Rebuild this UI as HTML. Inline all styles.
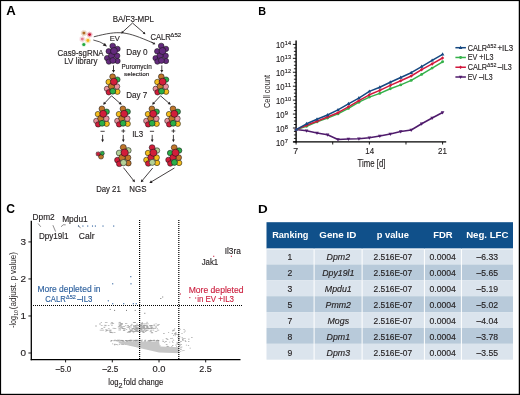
<!DOCTYPE html>
<html><head><meta charset="utf-8"><style>
html,body{margin:0;padding:0;background:#fff;}
body{width:520px;height:395px;position:relative;overflow:hidden;font-family:"Liberation Sans", sans-serif;}
.frame{position:absolute;left:0;top:0;width:520px;height:395px;box-sizing:border-box;border-top:1.2px solid #000;border-left:1.2px solid #000;border-right:1.3px solid #000;border-bottom:1.3px solid #000;}
</style></head><body>
<svg width="520" height="395" viewBox="0 0 520 395" style="position:absolute;left:0;top:0;will-change:transform" font-family='"Liberation Sans", sans-serif' fill="#231f20">
<text x="6.38" y="15.00" font-size="11.92" fill="#000" font-weight="bold" textLength="9.53" lengthAdjust="spacingAndGlyphs">A</text>
<text x="258.29" y="14.90" font-size="11.77" fill="#000" font-weight="bold" textLength="7.81" lengthAdjust="spacingAndGlyphs">B</text>
<text x="6.37" y="213.00" font-size="12.21" fill="#000" font-weight="bold" textLength="8.77" lengthAdjust="spacingAndGlyphs">C</text>
<text x="258.09" y="212.70" font-size="11.77" fill="#000" font-weight="bold" textLength="9.71" lengthAdjust="spacingAndGlyphs">D</text>
<text x="112.65" y="21.70" font-size="9.23" textLength="41.41" lengthAdjust="spacingAndGlyphs" stroke="#231f20" stroke-width="0.15">BA/F3-MPL</text>
<line x1="132.5" y1="23.0" x2="122.38" y2="32.31" stroke="#231f20" stroke-width="0.85"/>
<polygon points="121.20,33.40 123.83,32.86 121.96,30.83" fill="#231f20"/>
<line x1="132.5" y1="23.0" x2="144.18" y2="33.14" stroke="#231f20" stroke-width="0.85"/>
<polygon points="145.40,34.20 144.57,31.65 142.76,33.73" fill="#231f20"/>
<path d="M93.8,36.8 C120,30.1 125.8,31.2 153.0,42.9" fill="none" stroke="#231f20" stroke-width="0.8"/>
<line x1="151.5" y1="42.2" x2="153.92" y2="43.50" stroke="#231f20" stroke-width="0.85"/>
<polygon points="155.40,44.30 153.97,41.89 152.60,44.43" fill="#231f20"/>
<path d="M93.3,40.0 Q100.5,41.5 104.8,44.6" fill="none" stroke="#231f20" stroke-width="0.75"/>
<polygon points="107.0,46.6 102.7,45.6 104.9,42.9" fill="#231f20"/>
<polygon points="87.20,33.10 86.31,33.75 86.76,34.75 85.67,34.87 85.55,35.96 84.55,35.51 83.90,36.40 83.25,35.51 82.25,35.96 82.13,34.87 81.04,34.75 81.49,33.75 80.60,33.10 81.49,32.45 81.04,31.45 82.13,31.33 82.25,30.24 83.25,30.69 83.90,29.80 84.55,30.69 85.55,30.24 85.67,31.33 86.76,31.45 86.31,32.45" fill="#b06a25" opacity="0.3"/>
<circle cx="83.9" cy="33.1" r="1.45" fill="#b06a25"/>
<polygon points="92.90,34.60 92.01,35.25 92.46,36.25 91.37,36.37 91.25,37.46 90.25,37.01 89.60,37.90 88.95,37.01 87.95,37.46 87.83,36.37 86.74,36.25 87.19,35.25 86.30,34.60 87.19,33.95 86.74,32.95 87.83,32.83 87.95,31.74 88.95,32.19 89.60,31.30 90.25,32.19 91.25,31.74 91.37,32.83 92.46,32.95 92.01,33.95" fill="#c8102e" opacity="0.3"/>
<circle cx="89.6" cy="34.6" r="1.45" fill="#c8102e"/>
<polygon points="85.60,39.10 84.71,39.75 85.16,40.75 84.07,40.87 83.95,41.96 82.95,41.51 82.30,42.40 81.65,41.51 80.65,41.96 80.53,40.87 79.44,40.75 79.89,39.75 79.00,39.10 79.89,38.45 79.44,37.45 80.53,37.33 80.65,36.24 81.65,36.69 82.30,35.80 82.95,36.69 83.95,36.24 84.07,37.33 85.16,37.45 84.71,38.45" fill="#e07c8c" opacity="0.3"/>
<circle cx="82.3" cy="39.1" r="1.45" fill="#e07c8c"/>
<polygon points="91.20,40.50 90.31,41.15 90.76,42.15 89.67,42.27 89.55,43.36 88.55,42.91 87.90,43.80 87.25,42.91 86.25,43.36 86.13,42.27 85.04,42.15 85.49,41.15 84.60,40.50 85.49,39.85 85.04,38.85 86.13,38.73 86.25,37.64 87.25,38.09 87.90,37.20 88.55,38.09 89.55,37.64 89.67,38.73 90.76,38.85 90.31,39.85" fill="#f2b418" opacity="0.3"/>
<circle cx="87.9" cy="40.5" r="1.45" fill="#f2b418"/>
<circle cx="83.8" cy="44.5" r="2.3" fill="#2db34a" opacity="0.22"/>
<circle cx="83.8" cy="44.5" r="1.5" fill="#22a83f"/>
<text x="57.55" y="55.60" font-size="9.08" textLength="46.09" lengthAdjust="spacingAndGlyphs" stroke="#231f20" stroke-width="0.15">Cas9-sgRNA</text>
<text x="64.24" y="64.10" font-size="9.37" textLength="33.23" lengthAdjust="spacingAndGlyphs" stroke="#231f20" stroke-width="0.15">LV library</text>
<text x="109.73" y="41.40" font-size="7.8" textLength="10.14" lengthAdjust="spacingAndGlyphs" stroke="#231f20" stroke-width="0.15">EV</text>
<text x="150.45" y="39.80" font-size="9.23" textLength="20.31" lengthAdjust="spacingAndGlyphs" stroke="#231f20" stroke-width="0.15">CALR</text>
<text x="170.30" y="36.90" font-size="5.8" textLength="10.90" lengthAdjust="spacingAndGlyphs" stroke="#231f20" stroke-width="0.15">Δ52</text>
<text x="126.23" y="55.10" font-size="9.52" textLength="21.44" lengthAdjust="spacingAndGlyphs" stroke="#231f20" stroke-width="0.15">Day 0</text>
<text x="121.59" y="69.40" font-size="6.88" textLength="30.13" lengthAdjust="spacingAndGlyphs" stroke="#231f20" stroke-width="0.15">Puromycin</text>
<text x="124.00" y="76.30" font-size="6.2" textLength="25.30" lengthAdjust="spacingAndGlyphs" stroke="#231f20" stroke-width="0.15">selection</text>
<text x="126.24" y="98.20" font-size="9.38" textLength="21.02" lengthAdjust="spacingAndGlyphs" stroke="#231f20" stroke-width="0.15">Day 7</text>
<text x="132.15" y="136.80" font-size="9.23" textLength="11.11" lengthAdjust="spacingAndGlyphs" stroke="#231f20" stroke-width="0.15">IL3</text>
<text x="96.17" y="191.70" font-size="8.79" textLength="24.56" lengthAdjust="spacingAndGlyphs" stroke="#231f20" stroke-width="0.15">Day 21</text>
<text x="129.27" y="191.70" font-size="8.79" textLength="17.16" lengthAdjust="spacingAndGlyphs" stroke="#231f20" stroke-width="0.15">NGS</text>
<circle cx="117.50" cy="48.90" r="2.70" fill="#632a7c" stroke="#151515" stroke-width="0.55"/>
<circle cx="108.70" cy="51.30" r="2.70" fill="#632a7c" stroke="#151515" stroke-width="0.55"/>
<circle cx="107.10" cy="58.10" r="2.70" fill="#632a7c" stroke="#151515" stroke-width="0.55"/>
<circle cx="108.90" cy="61.60" r="2.70" fill="#632a7c" stroke="#151515" stroke-width="0.55"/>
<circle cx="117.50" cy="61.00" r="2.70" fill="#632a7c" stroke="#151515" stroke-width="0.55"/>
<circle cx="112.70" cy="46.00" r="2.86" fill="#632a7c" stroke="#151515" stroke-width="0.55"/>
<circle cx="117.10" cy="55.80" r="2.81" fill="#632a7c" stroke="#151515" stroke-width="0.55"/>
<circle cx="111.50" cy="55.70" r="3.07" fill="#632a7c" stroke="#151515" stroke-width="0.55"/>
<circle cx="112.90" cy="60.50" r="2.97" fill="#632a7c" stroke="#151515" stroke-width="0.55"/>
<circle cx="114.00" cy="51.00" r="3.50" fill="#632a7c" stroke="#151515" stroke-width="0.55"/>
<circle cx="166.00" cy="48.90" r="2.70" fill="#632a7c" stroke="#151515" stroke-width="0.55"/>
<circle cx="157.20" cy="51.30" r="2.70" fill="#632a7c" stroke="#151515" stroke-width="0.55"/>
<circle cx="155.60" cy="58.10" r="2.70" fill="#632a7c" stroke="#151515" stroke-width="0.55"/>
<circle cx="157.40" cy="61.60" r="2.70" fill="#632a7c" stroke="#151515" stroke-width="0.55"/>
<circle cx="166.00" cy="61.00" r="2.70" fill="#632a7c" stroke="#151515" stroke-width="0.55"/>
<circle cx="161.20" cy="46.00" r="2.86" fill="#632a7c" stroke="#151515" stroke-width="0.55"/>
<circle cx="165.60" cy="55.80" r="2.81" fill="#632a7c" stroke="#151515" stroke-width="0.55"/>
<circle cx="160.00" cy="55.70" r="3.07" fill="#632a7c" stroke="#151515" stroke-width="0.55"/>
<circle cx="161.40" cy="60.50" r="2.97" fill="#632a7c" stroke="#151515" stroke-width="0.55"/>
<circle cx="162.50" cy="51.00" r="3.50" fill="#632a7c" stroke="#151515" stroke-width="0.55"/>
<circle cx="117.40" cy="79.60" r="2.70" fill="#2aae48" stroke="#151515" stroke-width="0.55"/>
<circle cx="108.60" cy="82.00" r="2.70" fill="#f4bd1a" stroke="#151515" stroke-width="0.55"/>
<circle cx="107.00" cy="88.80" r="2.70" fill="#e8909c" stroke="#151515" stroke-width="0.55"/>
<circle cx="108.80" cy="92.30" r="2.70" fill="#d21d3a" stroke="#151515" stroke-width="0.55"/>
<circle cx="117.40" cy="91.70" r="2.70" fill="#f4bd1a" stroke="#151515" stroke-width="0.55"/>
<circle cx="112.60" cy="76.70" r="2.86" fill="#c0762a" stroke="#151515" stroke-width="0.55"/>
<circle cx="117.00" cy="86.50" r="2.81" fill="#e8909c" stroke="#151515" stroke-width="0.55"/>
<circle cx="111.40" cy="86.40" r="3.07" fill="#c0762a" stroke="#151515" stroke-width="0.55"/>
<circle cx="112.80" cy="91.20" r="2.97" fill="#2aae48" stroke="#151515" stroke-width="0.55"/>
<circle cx="113.90" cy="81.70" r="3.50" fill="#d21d3a" stroke="#151515" stroke-width="0.55"/>
<circle cx="166.10" cy="79.60" r="2.70" fill="#2aae48" stroke="#151515" stroke-width="0.55"/>
<circle cx="157.30" cy="82.00" r="2.70" fill="#f4bd1a" stroke="#151515" stroke-width="0.55"/>
<circle cx="155.70" cy="88.80" r="2.70" fill="#e8909c" stroke="#151515" stroke-width="0.55"/>
<circle cx="157.50" cy="92.30" r="2.70" fill="#d21d3a" stroke="#151515" stroke-width="0.55"/>
<circle cx="166.10" cy="91.70" r="2.70" fill="#f4bd1a" stroke="#151515" stroke-width="0.55"/>
<circle cx="161.30" cy="76.70" r="2.86" fill="#c0762a" stroke="#151515" stroke-width="0.55"/>
<circle cx="165.70" cy="86.50" r="2.81" fill="#e8909c" stroke="#151515" stroke-width="0.55"/>
<circle cx="160.10" cy="86.40" r="3.07" fill="#c0762a" stroke="#151515" stroke-width="0.55"/>
<circle cx="161.50" cy="91.20" r="2.97" fill="#2aae48" stroke="#151515" stroke-width="0.55"/>
<circle cx="162.60" cy="81.70" r="3.50" fill="#d21d3a" stroke="#151515" stroke-width="0.55"/>
<line x1="113.5" y1="65.4" x2="113.50" y2="70.84" stroke="#231f20" stroke-width="0.85"/>
<polygon points="113.50,72.80 115.04,70.00 111.96,70.00" fill="#231f20"/>
<line x1="161.8" y1="65.4" x2="161.80" y2="70.84" stroke="#231f20" stroke-width="0.85"/>
<polygon points="161.80,72.80 163.34,70.00 160.26,70.00" fill="#231f20"/>
<line x1="111.5" y1="95.8" x2="104.44" y2="103.37" stroke="#231f20" stroke-width="0.85"/>
<polygon points="103.10,104.80 106.14,103.80 103.88,101.70" fill="#231f20"/>
<line x1="111.5" y1="95.8" x2="120.23" y2="103.50" stroke="#231f20" stroke-width="0.85"/>
<polygon points="121.70,104.80 120.62,101.79 118.58,104.10" fill="#231f20"/>
<line x1="160.5" y1="95.8" x2="153.44" y2="103.37" stroke="#231f20" stroke-width="0.85"/>
<polygon points="152.10,104.80 155.14,103.80 152.88,101.70" fill="#231f20"/>
<line x1="160.5" y1="95.8" x2="169.32" y2="103.51" stroke="#231f20" stroke-width="0.85"/>
<polygon points="170.80,104.80 169.70,101.80 167.68,104.12" fill="#231f20"/>
<circle cx="106.70" cy="111.70" r="2.70" fill="#2aae48" stroke="#151515" stroke-width="0.55"/>
<circle cx="97.90" cy="114.10" r="2.70" fill="#f4bd1a" stroke="#151515" stroke-width="0.55"/>
<circle cx="96.30" cy="120.90" r="2.70" fill="#e8909c" stroke="#151515" stroke-width="0.55"/>
<circle cx="98.10" cy="124.40" r="2.70" fill="#d21d3a" stroke="#151515" stroke-width="0.55"/>
<circle cx="106.70" cy="123.80" r="2.70" fill="#f4bd1a" stroke="#151515" stroke-width="0.55"/>
<circle cx="101.90" cy="108.80" r="2.86" fill="#c0762a" stroke="#151515" stroke-width="0.55"/>
<circle cx="106.30" cy="118.60" r="2.81" fill="#e8909c" stroke="#151515" stroke-width="0.55"/>
<circle cx="100.70" cy="118.50" r="3.07" fill="#c0762a" stroke="#151515" stroke-width="0.55"/>
<circle cx="102.10" cy="123.30" r="2.97" fill="#2aae48" stroke="#151515" stroke-width="0.55"/>
<circle cx="103.20" cy="113.80" r="3.50" fill="#d21d3a" stroke="#151515" stroke-width="0.55"/>
<circle cx="127.70" cy="111.70" r="2.70" fill="#2aae48" stroke="#151515" stroke-width="0.55"/>
<circle cx="118.90" cy="114.10" r="2.70" fill="#f4bd1a" stroke="#151515" stroke-width="0.55"/>
<circle cx="117.30" cy="120.90" r="2.70" fill="#e8909c" stroke="#151515" stroke-width="0.55"/>
<circle cx="119.10" cy="124.40" r="2.70" fill="#d21d3a" stroke="#151515" stroke-width="0.55"/>
<circle cx="127.70" cy="123.80" r="2.70" fill="#f4bd1a" stroke="#151515" stroke-width="0.55"/>
<circle cx="122.90" cy="108.80" r="2.86" fill="#c0762a" stroke="#151515" stroke-width="0.55"/>
<circle cx="127.30" cy="118.60" r="2.81" fill="#e8909c" stroke="#151515" stroke-width="0.55"/>
<circle cx="121.70" cy="118.50" r="3.07" fill="#c0762a" stroke="#151515" stroke-width="0.55"/>
<circle cx="123.10" cy="123.30" r="2.97" fill="#2aae48" stroke="#151515" stroke-width="0.55"/>
<circle cx="124.20" cy="113.80" r="3.50" fill="#d21d3a" stroke="#151515" stroke-width="0.55"/>
<circle cx="156.70" cy="111.70" r="2.70" fill="#2aae48" stroke="#151515" stroke-width="0.55"/>
<circle cx="147.90" cy="114.10" r="2.70" fill="#f4bd1a" stroke="#151515" stroke-width="0.55"/>
<circle cx="146.30" cy="120.90" r="2.70" fill="#e8909c" stroke="#151515" stroke-width="0.55"/>
<circle cx="148.10" cy="124.40" r="2.70" fill="#d21d3a" stroke="#151515" stroke-width="0.55"/>
<circle cx="156.70" cy="123.80" r="2.70" fill="#f4bd1a" stroke="#151515" stroke-width="0.55"/>
<circle cx="151.90" cy="108.80" r="2.86" fill="#c0762a" stroke="#151515" stroke-width="0.55"/>
<circle cx="156.30" cy="118.60" r="2.81" fill="#e8909c" stroke="#151515" stroke-width="0.55"/>
<circle cx="150.70" cy="118.50" r="3.07" fill="#c0762a" stroke="#151515" stroke-width="0.55"/>
<circle cx="152.10" cy="123.30" r="2.97" fill="#2aae48" stroke="#151515" stroke-width="0.55"/>
<circle cx="153.20" cy="113.80" r="3.50" fill="#d21d3a" stroke="#151515" stroke-width="0.55"/>
<circle cx="177.80" cy="111.70" r="2.70" fill="#2aae48" stroke="#151515" stroke-width="0.55"/>
<circle cx="169.00" cy="114.10" r="2.70" fill="#f4bd1a" stroke="#151515" stroke-width="0.55"/>
<circle cx="167.40" cy="120.90" r="2.70" fill="#e8909c" stroke="#151515" stroke-width="0.55"/>
<circle cx="169.20" cy="124.40" r="2.70" fill="#d21d3a" stroke="#151515" stroke-width="0.55"/>
<circle cx="177.80" cy="123.80" r="2.70" fill="#f4bd1a" stroke="#151515" stroke-width="0.55"/>
<circle cx="173.00" cy="108.80" r="2.86" fill="#c0762a" stroke="#151515" stroke-width="0.55"/>
<circle cx="177.40" cy="118.60" r="2.81" fill="#e8909c" stroke="#151515" stroke-width="0.55"/>
<circle cx="171.80" cy="118.50" r="3.07" fill="#c0762a" stroke="#151515" stroke-width="0.55"/>
<circle cx="173.20" cy="123.30" r="2.97" fill="#2aae48" stroke="#151515" stroke-width="0.55"/>
<circle cx="174.30" cy="113.80" r="3.50" fill="#d21d3a" stroke="#151515" stroke-width="0.55"/>
<line x1="100.5" y1="131.3" x2="104.69999999999999" y2="131.3" stroke="#231f20" stroke-width="0.85"/>
<line x1="149.9" y1="131.3" x2="154.1" y2="131.3" stroke="#231f20" stroke-width="0.85"/>
<line x1="121.39999999999999" y1="131.0" x2="125.2" y2="131.0" stroke="#231f20" stroke-width="0.85"/>
<line x1="123.3" y1="129.2" x2="123.3" y2="132.8" stroke="#231f20" stroke-width="0.85"/>
<line x1="171.5" y1="131.0" x2="175.3" y2="131.0" stroke="#231f20" stroke-width="0.85"/>
<line x1="173.4" y1="129.2" x2="173.4" y2="132.8" stroke="#231f20" stroke-width="0.85"/>
<line x1="102.6" y1="134.9" x2="102.60" y2="140.24" stroke="#231f20" stroke-width="0.85"/>
<polygon points="102.60,142.20 104.00,139.40 101.20,139.40" fill="#231f20"/>
<line x1="123.3" y1="134.9" x2="123.30" y2="140.24" stroke="#231f20" stroke-width="0.85"/>
<polygon points="123.30,142.20 124.70,139.40 121.90,139.40" fill="#231f20"/>
<line x1="152.2" y1="134.9" x2="152.20" y2="140.24" stroke="#231f20" stroke-width="0.85"/>
<polygon points="152.20,142.20 153.60,139.40 150.80,139.40" fill="#231f20"/>
<line x1="173.4" y1="134.9" x2="173.40" y2="140.24" stroke="#231f20" stroke-width="0.85"/>
<polygon points="173.40,142.20 174.80,139.40 172.00,139.40" fill="#231f20"/>
<circle cx="101" cy="156.6" r="2.5" fill="#c0762a" stroke="#151515" stroke-width="0.5"/>
<polygon points="100.50,153.90 99.58,154.51 99.80,155.60 98.71,155.38 98.10,156.30 97.49,155.38 96.40,155.60 96.62,154.51 95.70,153.90 96.62,153.29 96.40,152.20 97.49,152.42 98.10,151.50 98.71,152.42 99.80,152.20 99.58,153.29" fill="#d21d3a" stroke="#151515" stroke-width="0.45"/>
<polygon points="104.70,153.20 103.78,153.81 104.00,154.90 102.91,154.68 102.30,155.60 101.69,154.68 100.60,154.90 100.82,153.81 99.90,153.20 100.82,152.59 100.60,151.50 101.69,151.72 102.30,150.80 102.91,151.72 104.00,151.50 103.78,152.59" fill="#2aae48" stroke="#151515" stroke-width="0.45"/>
<circle cx="128.34" cy="150.44" r="2.84" fill="#b3d197" stroke="#151515" stroke-width="0.55"/>
<circle cx="119.10" cy="152.97" r="2.84" fill="#b3d197" stroke="#151515" stroke-width="0.55"/>
<circle cx="117.42" cy="160.11" r="2.84" fill="#d21d3a" stroke="#151515" stroke-width="0.55"/>
<circle cx="119.31" cy="163.78" r="2.84" fill="#d21d3a" stroke="#151515" stroke-width="0.55"/>
<circle cx="128.34" cy="163.15" r="2.84" fill="#c0762a" stroke="#151515" stroke-width="0.55"/>
<circle cx="123.30" cy="147.40" r="3.01" fill="#c0762a" stroke="#151515" stroke-width="0.55"/>
<circle cx="127.92" cy="157.69" r="2.95" fill="#c0762a" stroke="#151515" stroke-width="0.55"/>
<circle cx="122.04" cy="157.59" r="3.23" fill="#c0762a" stroke="#151515" stroke-width="0.55"/>
<circle cx="123.51" cy="162.62" r="3.12" fill="#b3d197" stroke="#151515" stroke-width="0.55"/>
<circle cx="124.66" cy="152.65" r="3.67" fill="#d21d3a" stroke="#151515" stroke-width="0.55"/>
<circle cx="157.00" cy="150.56" r="2.76" fill="#b3d197" stroke="#151515" stroke-width="0.55"/>
<circle cx="148.02" cy="153.01" r="2.76" fill="#f4bd1a" stroke="#151515" stroke-width="0.55"/>
<circle cx="146.39" cy="159.94" r="2.76" fill="#f4bd1a" stroke="#151515" stroke-width="0.55"/>
<circle cx="148.22" cy="163.51" r="2.76" fill="#d21d3a" stroke="#151515" stroke-width="0.55"/>
<circle cx="157.00" cy="162.90" r="2.76" fill="#f4bd1a" stroke="#151515" stroke-width="0.55"/>
<circle cx="152.10" cy="147.60" r="2.92" fill="#d21d3a" stroke="#151515" stroke-width="0.55"/>
<circle cx="156.59" cy="157.60" r="2.87" fill="#f4bd1a" stroke="#151515" stroke-width="0.55"/>
<circle cx="150.88" cy="157.49" r="3.14" fill="#d21d3a" stroke="#151515" stroke-width="0.55"/>
<circle cx="152.30" cy="162.39" r="3.03" fill="#b3d197" stroke="#151515" stroke-width="0.55"/>
<circle cx="153.43" cy="152.70" r="3.57" fill="#d21d3a" stroke="#151515" stroke-width="0.55"/>
<circle cx="179.10" cy="150.56" r="2.76" fill="#2aae48" stroke="#151515" stroke-width="0.55"/>
<circle cx="170.12" cy="153.01" r="2.76" fill="#2aae48" stroke="#151515" stroke-width="0.55"/>
<circle cx="168.49" cy="159.94" r="2.76" fill="#d21d3a" stroke="#151515" stroke-width="0.55"/>
<circle cx="170.32" cy="163.51" r="2.76" fill="#d21d3a" stroke="#151515" stroke-width="0.55"/>
<circle cx="179.10" cy="162.90" r="2.76" fill="#f4bd1a" stroke="#151515" stroke-width="0.55"/>
<circle cx="174.20" cy="147.60" r="2.92" fill="#c0762a" stroke="#151515" stroke-width="0.55"/>
<circle cx="178.69" cy="157.60" r="2.87" fill="#c0762a" stroke="#151515" stroke-width="0.55"/>
<circle cx="172.98" cy="157.49" r="3.14" fill="#d21d3a" stroke="#151515" stroke-width="0.55"/>
<circle cx="174.40" cy="162.39" r="3.03" fill="#2aae48" stroke="#151515" stroke-width="0.55"/>
<circle cx="175.53" cy="152.70" r="3.57" fill="#d21d3a" stroke="#151515" stroke-width="0.55"/>
<line x1="123.5" y1="167.7" x2="133.79" y2="180.76" stroke="#231f20" stroke-width="0.85"/>
<polygon points="135.00,182.30 134.48,179.15 132.06,181.05" fill="#231f20"/>
<line x1="152.7" y1="168" x2="142.05" y2="180.79" stroke="#231f20" stroke-width="0.85"/>
<polygon points="140.80,182.30 143.77,181.13 141.41,179.16" fill="#231f20"/>
<line x1="174.4" y1="168" x2="151.08" y2="181.99" stroke="#231f20" stroke-width="0.85"/>
<polygon points="149.40,183.00 152.59,182.88 151.01,180.24" fill="#231f20"/>
<line x1="296.1" y1="40.4" x2="296.1" y2="142.5" stroke="#000" stroke-width="1.4"/>
<line x1="293.2" y1="141.9" x2="446.2" y2="141.9" stroke="#000" stroke-width="1.4"/>
<line x1="292.90000000000003" y1="141.91" x2="296.1" y2="141.91" stroke="#000" stroke-width="0.9"/>
<line x1="293.90000000000003" y1="138.43" x2="296.1" y2="138.43" stroke="#000" stroke-width="0.85"/>
<line x1="293.90000000000003" y1="134.94" x2="296.1" y2="134.94" stroke="#000" stroke-width="0.85"/>
<line x1="293.90000000000003" y1="131.46" x2="296.1" y2="131.46" stroke="#000" stroke-width="0.85"/>
<text x="275.96" y="145.71" font-size="9.07" textLength="8.59" lengthAdjust="spacingAndGlyphs" stroke="#231f20" stroke-width="0.15">10</text>
<text x="284.80" y="142.91" font-size="5.8" textLength="3.20" lengthAdjust="spacingAndGlyphs" stroke="#231f20" stroke-width="0.15">7</text>
<line x1="292.90000000000003" y1="127.98" x2="296.1" y2="127.98" stroke="#000" stroke-width="0.9"/>
<line x1="293.90000000000003" y1="124.50" x2="296.1" y2="124.50" stroke="#000" stroke-width="0.85"/>
<line x1="293.90000000000003" y1="121.01" x2="296.1" y2="121.01" stroke="#000" stroke-width="0.85"/>
<line x1="293.90000000000003" y1="117.53" x2="296.1" y2="117.53" stroke="#000" stroke-width="0.85"/>
<text x="275.96" y="131.78" font-size="9.07" textLength="8.59" lengthAdjust="spacingAndGlyphs" stroke="#231f20" stroke-width="0.15">10</text>
<text x="284.80" y="128.98" font-size="5.8" textLength="3.20" lengthAdjust="spacingAndGlyphs" stroke="#231f20" stroke-width="0.15">8</text>
<line x1="292.90000000000003" y1="114.05" x2="296.1" y2="114.05" stroke="#000" stroke-width="0.9"/>
<line x1="293.90000000000003" y1="110.57" x2="296.1" y2="110.57" stroke="#000" stroke-width="0.85"/>
<line x1="293.90000000000003" y1="107.09" x2="296.1" y2="107.09" stroke="#000" stroke-width="0.85"/>
<line x1="293.90000000000003" y1="103.60" x2="296.1" y2="103.60" stroke="#000" stroke-width="0.85"/>
<text x="275.96" y="117.85" font-size="9.07" textLength="8.59" lengthAdjust="spacingAndGlyphs" stroke="#231f20" stroke-width="0.15">10</text>
<text x="284.80" y="115.05" font-size="5.8" textLength="3.20" lengthAdjust="spacingAndGlyphs" stroke="#231f20" stroke-width="0.15">9</text>
<line x1="292.90000000000003" y1="100.12" x2="296.1" y2="100.12" stroke="#000" stroke-width="0.9"/>
<line x1="293.90000000000003" y1="96.64" x2="296.1" y2="96.64" stroke="#000" stroke-width="0.85"/>
<line x1="293.90000000000003" y1="93.16" x2="296.1" y2="93.16" stroke="#000" stroke-width="0.85"/>
<line x1="293.90000000000003" y1="89.67" x2="296.1" y2="89.67" stroke="#000" stroke-width="0.85"/>
<text x="275.96" y="103.92" font-size="9.07" textLength="8.59" lengthAdjust="spacingAndGlyphs" stroke="#231f20" stroke-width="0.15">10</text>
<text x="284.80" y="101.12" font-size="5.8" textLength="6.20" lengthAdjust="spacingAndGlyphs" stroke="#231f20" stroke-width="0.15">10</text>
<line x1="292.90000000000003" y1="86.19" x2="296.1" y2="86.19" stroke="#000" stroke-width="0.9"/>
<line x1="293.90000000000003" y1="82.71" x2="296.1" y2="82.71" stroke="#000" stroke-width="0.85"/>
<line x1="293.90000000000003" y1="79.22" x2="296.1" y2="79.22" stroke="#000" stroke-width="0.85"/>
<line x1="293.90000000000003" y1="75.74" x2="296.1" y2="75.74" stroke="#000" stroke-width="0.85"/>
<text x="275.96" y="89.99" font-size="9.07" textLength="8.59" lengthAdjust="spacingAndGlyphs" stroke="#231f20" stroke-width="0.15">10</text>
<text x="284.80" y="87.19" font-size="5.8" textLength="6.20" lengthAdjust="spacingAndGlyphs" stroke="#231f20" stroke-width="0.15">11</text>
<line x1="292.90000000000003" y1="72.26" x2="296.1" y2="72.26" stroke="#000" stroke-width="0.9"/>
<line x1="293.90000000000003" y1="68.78" x2="296.1" y2="68.78" stroke="#000" stroke-width="0.85"/>
<line x1="293.90000000000003" y1="65.29" x2="296.1" y2="65.29" stroke="#000" stroke-width="0.85"/>
<line x1="293.90000000000003" y1="61.81" x2="296.1" y2="61.81" stroke="#000" stroke-width="0.85"/>
<text x="275.96" y="76.06" font-size="9.07" textLength="8.59" lengthAdjust="spacingAndGlyphs" stroke="#231f20" stroke-width="0.15">10</text>
<text x="284.80" y="73.26" font-size="5.8" textLength="6.20" lengthAdjust="spacingAndGlyphs" stroke="#231f20" stroke-width="0.15">12</text>
<line x1="292.90000000000003" y1="58.33" x2="296.1" y2="58.33" stroke="#000" stroke-width="0.9"/>
<line x1="293.90000000000003" y1="54.85" x2="296.1" y2="54.85" stroke="#000" stroke-width="0.85"/>
<line x1="293.90000000000003" y1="51.36" x2="296.1" y2="51.36" stroke="#000" stroke-width="0.85"/>
<line x1="293.90000000000003" y1="47.88" x2="296.1" y2="47.88" stroke="#000" stroke-width="0.85"/>
<text x="275.96" y="62.13" font-size="9.07" textLength="8.59" lengthAdjust="spacingAndGlyphs" stroke="#231f20" stroke-width="0.15">10</text>
<text x="284.80" y="59.33" font-size="5.8" textLength="6.20" lengthAdjust="spacingAndGlyphs" stroke="#231f20" stroke-width="0.15">13</text>
<line x1="292.90000000000003" y1="44.40" x2="296.1" y2="44.40" stroke="#000" stroke-width="0.9"/>
<text x="275.96" y="48.20" font-size="9.07" textLength="8.59" lengthAdjust="spacingAndGlyphs" stroke="#231f20" stroke-width="0.15">10</text>
<text x="284.80" y="45.40" font-size="5.8" textLength="6.20" lengthAdjust="spacingAndGlyphs" stroke="#231f20" stroke-width="0.15">14</text>
<line x1="296.10" y1="141.9" x2="296.10" y2="144.5" stroke="#000" stroke-width="0.9"/>
<line x1="332.73" y1="141.9" x2="332.73" y2="144.5" stroke="#000" stroke-width="0.9"/>
<line x1="369.35" y1="141.9" x2="369.35" y2="144.5" stroke="#000" stroke-width="0.9"/>
<line x1="405.98" y1="141.9" x2="405.98" y2="144.5" stroke="#000" stroke-width="0.9"/>
<line x1="442.60" y1="141.9" x2="442.60" y2="144.5" stroke="#000" stroke-width="0.9"/>
<text x="293.26" y="154.30" font-size="8.93" textLength="4.87" lengthAdjust="spacingAndGlyphs" stroke="#231f20" stroke-width="0.15">7</text>
<text x="365.36" y="154.30" font-size="8.93" textLength="8.77" lengthAdjust="spacingAndGlyphs" stroke="#231f20" stroke-width="0.15">14</text>
<text x="438.06" y="154.30" font-size="8.93" textLength="8.87" lengthAdjust="spacingAndGlyphs" stroke="#231f20" stroke-width="0.15">21</text>
<text x="357.59" y="166.80" font-size="10.1" textLength="27.81" lengthAdjust="spacingAndGlyphs" stroke="#231f20" stroke-width="0.15">Time [d]</text>
<text transform="translate(269.8,108.0) rotate(-90)" font-size="9.2" textLength="33.0" lengthAdjust="spacingAndGlyphs">Cell count</text>
<polyline points="296.10,129.60 306.56,130.80 317.03,133.00 327.49,134.80 337.96,139.50 348.42,139.00 358.89,138.75 369.35,137.75 379.81,136.00 390.28,134.00 400.74,131.50 411.21,130.00 421.67,123.75 432.14,118.00 442.60,112.50" fill="none" stroke="#4f1b6c" stroke-width="1.5" stroke-linejoin="round"/>
<polygon points="296.10,131.60 294.30,128.40 297.90,128.40" fill="#4f1b6c"/>
<polygon points="306.56,132.80 304.76,129.60 308.36,129.60" fill="#4f1b6c"/>
<polygon points="317.03,135.00 315.23,131.80 318.83,131.80" fill="#4f1b6c"/>
<polygon points="327.49,136.80 325.69,133.60 329.29,133.60" fill="#4f1b6c"/>
<polygon points="337.96,141.50 336.16,138.30 339.76,138.30" fill="#4f1b6c"/>
<polygon points="348.42,141.00 346.62,137.80 350.22,137.80" fill="#4f1b6c"/>
<polygon points="358.89,140.75 357.09,137.55 360.69,137.55" fill="#4f1b6c"/>
<polygon points="369.35,139.75 367.55,136.55 371.15,136.55" fill="#4f1b6c"/>
<polygon points="379.81,138.00 378.01,134.80 381.61,134.80" fill="#4f1b6c"/>
<polygon points="390.28,136.00 388.48,132.80 392.08,132.80" fill="#4f1b6c"/>
<polygon points="400.74,133.50 398.94,130.30 402.54,130.30" fill="#4f1b6c"/>
<polygon points="411.21,132.00 409.41,128.80 413.01,128.80" fill="#4f1b6c"/>
<polygon points="421.67,125.75 419.87,122.55 423.47,122.55" fill="#4f1b6c"/>
<polygon points="432.14,120.00 430.34,116.80 433.94,116.80" fill="#4f1b6c"/>
<polygon points="442.60,114.50 440.80,111.30 444.40,111.30" fill="#4f1b6c"/>
<polyline points="296.10,129.60 306.56,126.20 317.03,121.90 327.49,118.10 337.96,113.90 348.42,108.40 358.89,102.20 369.35,97.10 379.81,93.40 390.28,88.75 400.74,84.90 411.21,80.40 421.67,74.40 432.14,68.10 442.60,61.80" fill="none" stroke="#35b14a" stroke-width="1.5" stroke-linejoin="round"/>
<circle cx="296.10" cy="129.60" r="1.45" fill="#35b14a"/>
<circle cx="306.56" cy="126.20" r="1.45" fill="#35b14a"/>
<circle cx="317.03" cy="121.90" r="1.45" fill="#35b14a"/>
<circle cx="327.49" cy="118.10" r="1.45" fill="#35b14a"/>
<circle cx="337.96" cy="113.90" r="1.45" fill="#35b14a"/>
<circle cx="348.42" cy="108.40" r="1.45" fill="#35b14a"/>
<circle cx="358.89" cy="102.20" r="1.45" fill="#35b14a"/>
<circle cx="369.35" cy="97.10" r="1.45" fill="#35b14a"/>
<circle cx="379.81" cy="93.40" r="1.45" fill="#35b14a"/>
<circle cx="390.28" cy="88.75" r="1.45" fill="#35b14a"/>
<circle cx="400.74" cy="84.90" r="1.45" fill="#35b14a"/>
<circle cx="411.21" cy="80.40" r="1.45" fill="#35b14a"/>
<circle cx="421.67" cy="74.40" r="1.45" fill="#35b14a"/>
<circle cx="432.14" cy="68.10" r="1.45" fill="#35b14a"/>
<circle cx="442.60" cy="61.80" r="1.45" fill="#35b14a"/>
<polyline points="296.10,129.60 306.56,125.30 317.03,121.20 327.49,117.00 337.96,112.70 348.42,106.80 358.89,100.70 369.35,94.80 379.81,90.40 390.28,85.40 400.74,80.80 411.21,76.00 421.67,69.60 432.14,63.90 442.60,58.00" fill="none" stroke="#d2183c" stroke-width="1.5" stroke-linejoin="round"/>
<polygon points="296.10,127.80 297.70,129.60 296.10,131.40 294.50,129.60" fill="#d2183c"/>
<polygon points="306.56,123.50 308.16,125.30 306.56,127.10 304.96,125.30" fill="#d2183c"/>
<polygon points="317.03,119.40 318.63,121.20 317.03,123.00 315.43,121.20" fill="#d2183c"/>
<polygon points="327.49,115.20 329.09,117.00 327.49,118.80 325.89,117.00" fill="#d2183c"/>
<polygon points="337.96,110.90 339.56,112.70 337.96,114.50 336.36,112.70" fill="#d2183c"/>
<polygon points="348.42,105.00 350.02,106.80 348.42,108.60 346.82,106.80" fill="#d2183c"/>
<polygon points="358.89,98.90 360.49,100.70 358.89,102.50 357.29,100.70" fill="#d2183c"/>
<polygon points="369.35,93.00 370.95,94.80 369.35,96.60 367.75,94.80" fill="#d2183c"/>
<polygon points="379.81,88.60 381.41,90.40 379.81,92.20 378.21,90.40" fill="#d2183c"/>
<polygon points="390.28,83.60 391.88,85.40 390.28,87.20 388.68,85.40" fill="#d2183c"/>
<polygon points="400.74,79.00 402.34,80.80 400.74,82.60 399.14,80.80" fill="#d2183c"/>
<polygon points="411.21,74.20 412.81,76.00 411.21,77.80 409.61,76.00" fill="#d2183c"/>
<polygon points="421.67,67.80 423.27,69.60 421.67,71.40 420.07,69.60" fill="#d2183c"/>
<polygon points="432.14,62.10 433.74,63.90 432.14,65.70 430.54,63.90" fill="#d2183c"/>
<polygon points="442.60,56.20 444.20,58.00 442.60,59.80 441.00,58.00" fill="#d2183c"/>
<polyline points="296.10,129.60 306.56,123.80 317.03,119.20 327.49,115.00 337.96,109.90 348.42,103.80 358.89,98.10 369.35,91.40 379.81,87.30 390.28,82.30 400.74,77.50 411.21,72.70 421.67,66.60 432.14,60.40 442.60,54.30" fill="none" stroke="#154881" stroke-width="1.5" stroke-linejoin="round"/>
<polygon points="296.10,127.60 294.30,130.80 297.90,130.80" fill="#154881"/>
<polygon points="306.56,121.80 304.76,125.00 308.36,125.00" fill="#154881"/>
<polygon points="317.03,117.20 315.23,120.40 318.83,120.40" fill="#154881"/>
<polygon points="327.49,113.00 325.69,116.20 329.29,116.20" fill="#154881"/>
<polygon points="337.96,107.90 336.16,111.10 339.76,111.10" fill="#154881"/>
<polygon points="348.42,101.80 346.62,105.00 350.22,105.00" fill="#154881"/>
<polygon points="358.89,96.10 357.09,99.30 360.69,99.30" fill="#154881"/>
<polygon points="369.35,89.40 367.55,92.60 371.15,92.60" fill="#154881"/>
<polygon points="379.81,85.30 378.01,88.50 381.61,88.50" fill="#154881"/>
<polygon points="390.28,80.30 388.48,83.50 392.08,83.50" fill="#154881"/>
<polygon points="400.74,75.50 398.94,78.70 402.54,78.70" fill="#154881"/>
<polygon points="411.21,70.70 409.41,73.90 413.01,73.90" fill="#154881"/>
<polygon points="421.67,64.60 419.87,67.80 423.47,67.80" fill="#154881"/>
<polygon points="432.14,58.40 430.34,61.60 433.94,61.60" fill="#154881"/>
<polygon points="442.60,52.30 440.80,55.50 444.40,55.50" fill="#154881"/>
<line x1="455.4" y1="47.70" x2="465.9" y2="47.70" stroke="#154881" stroke-width="1.5"/>
<polygon points="460.60,45.70 458.80,48.90 462.40,48.90" fill="#154881"/>
<line x1="455.4" y1="57.47" x2="465.9" y2="57.47" stroke="#35b14a" stroke-width="1.5"/>
<circle cx="460.60" cy="57.47" r="1.45" fill="#35b14a"/>
<line x1="455.4" y1="67.24" x2="465.9" y2="67.24" stroke="#d2183c" stroke-width="1.5"/>
<polygon points="460.60,65.44 462.20,67.24 460.60,69.04 459.00,67.24" fill="#d2183c"/>
<line x1="455.4" y1="77.01" x2="465.9" y2="77.01" stroke="#4f1b6c" stroke-width="1.5"/>
<polygon points="460.60,79.01 458.80,75.81 462.40,75.81" fill="#4f1b6c"/>
<text x="467.65" y="50.50" font-size="9.08" textLength="19.49" lengthAdjust="spacingAndGlyphs" stroke="#231f20" stroke-width="0.15">CALR</text>
<text x="487.00" y="47.60" font-size="5.8" textLength="9.40" lengthAdjust="spacingAndGlyphs" stroke="#231f20" stroke-width="0.15">Δ52</text>
<text x="497.45" y="50.50" font-size="9.08" textLength="15.69" lengthAdjust="spacingAndGlyphs" stroke="#231f20" stroke-width="0.15">+IL3</text>
<text x="467.65" y="60.30" font-size="9.08" textLength="25.89" lengthAdjust="spacingAndGlyphs" stroke="#231f20" stroke-width="0.15">EV +IL3</text>
<text x="467.65" y="70.10" font-size="9.08" textLength="19.49" lengthAdjust="spacingAndGlyphs" stroke="#231f20" stroke-width="0.15">CALR</text>
<text x="487.00" y="67.40" font-size="5.8" textLength="9.40" lengthAdjust="spacingAndGlyphs" stroke="#231f20" stroke-width="0.15">Δ52</text>
<text x="497.65" y="70.10" font-size="9.08" textLength="13.99" lengthAdjust="spacingAndGlyphs" stroke="#231f20" stroke-width="0.15">–IL3</text>
<text x="467.65" y="79.90" font-size="9.08" textLength="24.89" lengthAdjust="spacingAndGlyphs" stroke="#231f20" stroke-width="0.15">EV –IL3</text>
<line x1="31.3" y1="220.8" x2="31.3" y2="360.2" stroke="#000" stroke-width="1.3"/>
<line x1="30.7" y1="359.6" x2="240.5" y2="359.6" stroke="#000" stroke-width="1.3"/>
<line x1="28.4" y1="353.00" x2="31.3" y2="353.00" stroke="#000" stroke-width="0.9"/>
<text x="20.44" y="355.60" font-size="9.36" textLength="5.52" lengthAdjust="spacingAndGlyphs" stroke="#231f20" stroke-width="0.15">0</text>
<line x1="28.4" y1="315.97" x2="31.3" y2="315.97" stroke="#000" stroke-width="0.9"/>
<text x="20.44" y="318.57" font-size="9.36" textLength="5.52" lengthAdjust="spacingAndGlyphs" stroke="#231f20" stroke-width="0.15">1</text>
<line x1="28.4" y1="278.94" x2="31.3" y2="278.94" stroke="#000" stroke-width="0.9"/>
<text x="20.44" y="281.54" font-size="9.36" textLength="5.52" lengthAdjust="spacingAndGlyphs" stroke="#231f20" stroke-width="0.15">2</text>
<line x1="28.4" y1="241.91" x2="31.3" y2="241.91" stroke="#000" stroke-width="0.9"/>
<text x="20.44" y="244.51" font-size="9.36" textLength="5.52" lengthAdjust="spacingAndGlyphs" stroke="#231f20" stroke-width="0.15">3</text>
<line x1="65.60" y1="359.6" x2="65.60" y2="362.4" stroke="#000" stroke-width="0.9"/>
<text x="55.77" y="372.20" font-size="8.79" textLength="15.55" lengthAdjust="spacingAndGlyphs" stroke="#231f20" stroke-width="0.15">–5.0</text>
<line x1="112.30" y1="359.6" x2="112.30" y2="362.4" stroke="#000" stroke-width="0.9"/>
<text x="102.47" y="372.20" font-size="8.79" textLength="15.95" lengthAdjust="spacingAndGlyphs" stroke="#231f20" stroke-width="0.15">–2.5</text>
<line x1="159.00" y1="359.6" x2="159.00" y2="362.4" stroke="#000" stroke-width="0.9"/>
<text x="152.57" y="372.20" font-size="8.79" textLength="12.95" lengthAdjust="spacingAndGlyphs" stroke="#231f20" stroke-width="0.15">0.0</text>
<line x1="205.70" y1="359.6" x2="205.70" y2="362.4" stroke="#000" stroke-width="0.9"/>
<text x="199.37" y="372.20" font-size="8.79" textLength="12.45" lengthAdjust="spacingAndGlyphs" stroke="#231f20" stroke-width="0.15">2.5</text>
<text x="108.22" y="385.00" font-size="9.66" textLength="10.26" lengthAdjust="spacingAndGlyphs" stroke="#231f20" stroke-width="0.15">log</text>
<text x="118.40" y="388.00" font-size="6.4" textLength="4.00" lengthAdjust="spacingAndGlyphs" stroke="#231f20" stroke-width="0.15">2</text>
<text x="123.61" y="385.00" font-size="9.8" textLength="39.78" lengthAdjust="spacingAndGlyphs" stroke="#231f20" stroke-width="0.15">fold change</text>
<g transform="translate(16.0,327.8) rotate(-90)"><text x="0" y="0" font-size="8.6" textLength="11.6" lengthAdjust="spacingAndGlyphs">-log</text><text x="12.0" y="2.0" font-size="5.8" textLength="5.8" lengthAdjust="spacingAndGlyphs">10</text><text x="18.6" y="0" font-size="8.6" textLength="57.2" lengthAdjust="spacingAndGlyphs">(adjust. p value)</text></g>
<g><rect x="132.9" y="322.1" width="2.5" height="0.6" fill="#9a9a9a"/><rect x="133.7" y="322.1" width="2.0" height="0.6" fill="#9a9a9a"/><rect x="118.6" y="322.1" width="2.1" height="0.6" fill="#9a9a9a"/><rect x="146.3" y="321.9" width="1.6" height="0.6" fill="#9a9a9a"/><rect x="110.9" y="322.3" width="2.2" height="0.6" fill="#9a9a9a"/><rect x="104.9" y="322.4" width="2.6" height="0.6" fill="#9a9a9a"/><rect x="141.6" y="322.2" width="1.4" height="0.6" fill="#9a9a9a"/><rect x="100.7" y="322.1" width="1.3" height="0.6" fill="#9a9a9a"/><rect x="119.4" y="321.9" width="1.2" height="0.6" fill="#9a9a9a"/><rect x="133.5" y="322.1" width="2.4" height="0.6" fill="#9a9a9a"/><rect x="136.1" y="323.8" width="1.9" height="0.6" fill="#9a9a9a"/><rect x="141.8" y="323.7" width="1.6" height="0.6" fill="#9a9a9a"/><rect x="157.4" y="324.0" width="2.4" height="0.6" fill="#9a9a9a"/><rect x="143.5" y="323.6" width="1.5" height="0.6" fill="#9a9a9a"/><rect x="125.0" y="323.4" width="2.3" height="0.6" fill="#9a9a9a"/><rect x="130.9" y="323.9" width="1.7" height="0.6" fill="#9a9a9a"/><rect x="153.6" y="323.9" width="1.2" height="0.6" fill="#9a9a9a"/><rect x="120.4" y="323.9" width="1.9" height="0.6" fill="#9a9a9a"/><rect x="155.4" y="323.6" width="1.3" height="0.6" fill="#9a9a9a"/><rect x="140.6" y="323.9" width="1.6" height="0.6" fill="#9a9a9a"/><rect x="110.3" y="323.6" width="2.5" height="0.6" fill="#9a9a9a"/><rect x="145.2" y="323.5" width="1.5" height="0.6" fill="#9a9a9a"/><rect x="111.8" y="323.4" width="2.3" height="0.6" fill="#9a9a9a"/><rect x="118.3" y="323.7" width="1.8" height="0.6" fill="#9a9a9a"/><rect x="119.4" y="323.8" width="1.4" height="0.6" fill="#9a9a9a"/><rect x="141.0" y="323.5" width="1.8" height="0.6" fill="#9a9a9a"/><rect x="120.3" y="323.6" width="2.6" height="0.6" fill="#9a9a9a"/><rect x="146.3" y="323.6" width="2.4" height="0.6" fill="#9a9a9a"/><rect x="120.2" y="323.6" width="2.4" height="0.6" fill="#9a9a9a"/><rect x="140.5" y="323.5" width="2.6" height="0.6" fill="#9a9a9a"/><rect x="120.4" y="323.6" width="2.3" height="0.6" fill="#9a9a9a"/><rect x="127.6" y="325.1" width="1.3" height="0.6" fill="#9a9a9a"/><rect x="111.2" y="325.2" width="1.5" height="0.6" fill="#9a9a9a"/><rect x="139.4" y="325.1" width="1.8" height="0.6" fill="#9a9a9a"/><rect x="153.3" y="325.2" width="2.0" height="0.6" fill="#9a9a9a"/><rect x="149.0" y="325.0" width="1.4" height="0.6" fill="#9a9a9a"/><rect x="150.7" y="325.4" width="1.5" height="0.6" fill="#9a9a9a"/><rect x="118.8" y="325.3" width="2.5" height="0.6" fill="#9a9a9a"/><rect x="119.3" y="325.5" width="2.4" height="0.6" fill="#9a9a9a"/><rect x="139.7" y="325.2" width="1.3" height="0.6" fill="#9a9a9a"/><rect x="105.0" y="325.5" width="1.5" height="0.6" fill="#9a9a9a"/><rect x="142.9" y="325.1" width="2.4" height="0.6" fill="#9a9a9a"/><rect x="139.4" y="325.1" width="1.4" height="0.6" fill="#9a9a9a"/><rect x="143.9" y="324.9" width="1.5" height="0.6" fill="#9a9a9a"/><rect x="137.6" y="325.4" width="2.1" height="0.6" fill="#9a9a9a"/><rect x="124.9" y="325.5" width="1.5" height="0.6" fill="#9a9a9a"/><rect x="100.8" y="325.1" width="1.8" height="0.6" fill="#9a9a9a"/><rect x="107.8" y="325.0" width="1.7" height="0.6" fill="#9a9a9a"/><rect x="138.3" y="325.0" width="1.7" height="0.6" fill="#9a9a9a"/><rect x="149.6" y="325.5" width="2.1" height="0.6" fill="#9a9a9a"/><rect x="142.9" y="325.3" width="1.4" height="0.6" fill="#9a9a9a"/><rect x="103.9" y="324.9" width="2.5" height="0.6" fill="#9a9a9a"/><rect x="143.4" y="325.5" width="1.2" height="0.6" fill="#9a9a9a"/><rect x="140.5" y="325.2" width="2.2" height="0.6" fill="#9a9a9a"/><rect x="127.1" y="325.5" width="1.3" height="0.6" fill="#9a9a9a"/><rect x="136.9" y="325.3" width="2.5" height="0.6" fill="#9a9a9a"/><rect x="144.1" y="325.3" width="2.3" height="0.6" fill="#9a9a9a"/><rect x="150.7" y="325.1" width="2.2" height="0.6" fill="#9a9a9a"/><rect x="150.2" y="325.4" width="1.8" height="0.6" fill="#9a9a9a"/><rect x="146.1" y="325.4" width="2.0" height="0.6" fill="#9a9a9a"/><rect x="140.2" y="325.1" width="2.0" height="0.6" fill="#9a9a9a"/><rect x="139.5" y="324.9" width="2.1" height="0.6" fill="#9a9a9a"/><rect x="156.6" y="325.4" width="2.2" height="0.6" fill="#9a9a9a"/><rect x="130.2" y="325.3" width="2.0" height="0.6" fill="#9a9a9a"/><rect x="133.0" y="325.4" width="1.3" height="0.6" fill="#9a9a9a"/><rect x="144.7" y="324.9" width="2.0" height="0.6" fill="#9a9a9a"/><rect x="134.3" y="325.0" width="2.2" height="0.6" fill="#9a9a9a"/><rect x="134.9" y="325.3" width="2.5" height="0.6" fill="#9a9a9a"/><rect x="123.4" y="326.4" width="1.6" height="0.6" fill="#9a9a9a"/><rect x="142.4" y="326.5" width="1.4" height="0.6" fill="#9a9a9a"/><rect x="150.4" y="326.8" width="1.8" height="0.6" fill="#9a9a9a"/><rect x="149.7" y="326.6" width="2.1" height="0.6" fill="#9a9a9a"/><rect x="119.4" y="326.7" width="2.3" height="0.6" fill="#9a9a9a"/><rect x="150.9" y="326.9" width="1.7" height="0.6" fill="#9a9a9a"/><rect x="138.9" y="326.6" width="1.4" height="0.6" fill="#9a9a9a"/><rect x="134.9" y="326.9" width="2.4" height="0.6" fill="#9a9a9a"/><rect x="143.6" y="327.0" width="1.6" height="0.6" fill="#9a9a9a"/><rect x="117.8" y="326.7" width="1.6" height="0.6" fill="#9a9a9a"/><rect x="120.6" y="326.6" width="2.1" height="0.6" fill="#9a9a9a"/><rect x="134.8" y="326.6" width="2.4" height="0.6" fill="#9a9a9a"/><rect x="155.6" y="326.7" width="1.3" height="0.6" fill="#9a9a9a"/><rect x="104.0" y="326.9" width="1.3" height="0.6" fill="#9a9a9a"/><rect x="143.4" y="326.7" width="1.6" height="0.6" fill="#9a9a9a"/><rect x="146.4" y="326.4" width="1.4" height="0.6" fill="#9a9a9a"/><rect x="133.1" y="326.4" width="2.4" height="0.6" fill="#9a9a9a"/><rect x="122.5" y="326.5" width="1.3" height="0.6" fill="#9a9a9a"/><rect x="140.3" y="326.7" width="2.1" height="0.6" fill="#9a9a9a"/><rect x="141.0" y="326.9" width="2.5" height="0.6" fill="#9a9a9a"/><rect x="142.5" y="326.5" width="1.9" height="0.6" fill="#9a9a9a"/><rect x="118.3" y="326.4" width="1.9" height="0.6" fill="#9a9a9a"/><rect x="143.7" y="326.5" width="1.6" height="0.6" fill="#9a9a9a"/><rect x="128.1" y="326.8" width="1.9" height="0.6" fill="#9a9a9a"/><rect x="139.9" y="326.9" width="1.8" height="0.6" fill="#9a9a9a"/><rect x="146.5" y="326.9" width="1.3" height="0.6" fill="#9a9a9a"/><rect x="152.0" y="326.8" width="1.4" height="0.6" fill="#9a9a9a"/><rect x="133.0" y="326.8" width="2.5" height="0.6" fill="#9a9a9a"/><rect x="129.4" y="326.7" width="2.4" height="0.6" fill="#9a9a9a"/><rect x="146.4" y="327.0" width="1.8" height="0.6" fill="#9a9a9a"/><rect x="141.1" y="326.5" width="2.2" height="0.6" fill="#9a9a9a"/><rect x="146.9" y="326.8" width="2.2" height="0.6" fill="#9a9a9a"/><rect x="120.3" y="326.9" width="2.6" height="0.6" fill="#9a9a9a"/><rect x="154.6" y="326.7" width="2.3" height="0.6" fill="#9a9a9a"/><rect x="126.6" y="326.9" width="2.4" height="0.6" fill="#9a9a9a"/><rect x="128.3" y="326.4" width="1.8" height="0.6" fill="#9a9a9a"/><rect x="137.3" y="326.9" width="1.9" height="0.6" fill="#9a9a9a"/><rect x="103.4" y="326.9" width="1.3" height="0.6" fill="#9a9a9a"/><rect x="146.6" y="326.5" width="1.7" height="0.6" fill="#9a9a9a"/><rect x="146.3" y="326.5" width="1.4" height="0.6" fill="#9a9a9a"/><rect x="135.7" y="326.8" width="2.4" height="0.6" fill="#9a9a9a"/><rect x="142.6" y="327.0" width="1.9" height="0.6" fill="#9a9a9a"/><rect x="152.9" y="328.0" width="1.5" height="0.6" fill="#9a9a9a"/><rect x="136.2" y="328.1" width="2.2" height="0.6" fill="#9a9a9a"/><rect x="140.5" y="328.2" width="2.4" height="0.6" fill="#9a9a9a"/><rect x="137.8" y="328.1" width="1.7" height="0.6" fill="#9a9a9a"/><rect x="148.2" y="328.4" width="1.5" height="0.6" fill="#9a9a9a"/><rect x="148.2" y="328.5" width="1.9" height="0.6" fill="#9a9a9a"/><rect x="138.2" y="328.0" width="2.0" height="0.6" fill="#9a9a9a"/><rect x="135.7" y="328.3" width="1.2" height="0.6" fill="#9a9a9a"/><rect x="154.2" y="328.2" width="1.8" height="0.6" fill="#9a9a9a"/><rect x="146.5" y="328.2" width="1.9" height="0.6" fill="#9a9a9a"/><rect x="142.6" y="327.9" width="2.0" height="0.6" fill="#9a9a9a"/><rect x="131.2" y="328.5" width="2.5" height="0.6" fill="#9a9a9a"/><rect x="124.3" y="328.2" width="1.4" height="0.6" fill="#9a9a9a"/><rect x="132.1" y="328.4" width="2.5" height="0.6" fill="#9a9a9a"/><rect x="134.5" y="328.1" width="1.5" height="0.6" fill="#9a9a9a"/><rect x="140.2" y="328.5" width="1.4" height="0.6" fill="#9a9a9a"/><rect x="146.0" y="327.9" width="1.5" height="0.6" fill="#9a9a9a"/><rect x="121.6" y="328.3" width="1.7" height="0.6" fill="#9a9a9a"/><rect x="128.9" y="328.3" width="1.3" height="0.6" fill="#9a9a9a"/><rect x="144.1" y="328.0" width="1.9" height="0.6" fill="#9a9a9a"/><rect x="122.9" y="328.0" width="1.9" height="0.6" fill="#9a9a9a"/><rect x="132.6" y="328.1" width="1.8" height="0.6" fill="#9a9a9a"/><rect x="136.7" y="328.0" width="1.5" height="0.6" fill="#9a9a9a"/><rect x="140.5" y="328.3" width="1.9" height="0.6" fill="#9a9a9a"/><rect x="147.9" y="328.3" width="2.4" height="0.6" fill="#9a9a9a"/><rect x="121.6" y="328.3" width="2.3" height="0.6" fill="#9a9a9a"/><rect x="150.4" y="328.1" width="1.6" height="0.6" fill="#9a9a9a"/><rect x="150.9" y="328.0" width="2.6" height="0.6" fill="#9a9a9a"/><rect x="149.8" y="328.0" width="1.5" height="0.6" fill="#9a9a9a"/><rect x="144.2" y="328.1" width="1.3" height="0.6" fill="#9a9a9a"/><rect x="147.3" y="328.2" width="2.3" height="0.6" fill="#9a9a9a"/><rect x="114.1" y="328.1" width="2.2" height="0.6" fill="#9a9a9a"/><rect x="100.9" y="328.0" width="2.2" height="0.6" fill="#9a9a9a"/><rect x="150.9" y="328.5" width="1.4" height="0.6" fill="#9a9a9a"/><rect x="135.5" y="328.4" width="1.9" height="0.6" fill="#9a9a9a"/><rect x="142.8" y="328.0" width="1.3" height="0.6" fill="#9a9a9a"/><rect x="112.5" y="327.9" width="2.0" height="0.6" fill="#9a9a9a"/><rect x="136.1" y="328.2" width="1.4" height="0.6" fill="#9a9a9a"/><rect x="118.5" y="328.0" width="2.4" height="0.6" fill="#9a9a9a"/><rect x="156.6" y="328.5" width="1.3" height="0.6" fill="#9a9a9a"/><rect x="107.9" y="328.5" width="1.8" height="0.6" fill="#9a9a9a"/><rect x="145.3" y="328.1" width="1.9" height="0.6" fill="#9a9a9a"/><rect x="135.8" y="329.7" width="2.0" height="0.6" fill="#9a9a9a"/><rect x="99.7" y="329.8" width="2.4" height="0.6" fill="#9a9a9a"/><rect x="118.3" y="329.7" width="2.2" height="0.6" fill="#9a9a9a"/><rect x="131.3" y="329.5" width="1.4" height="0.6" fill="#9a9a9a"/><rect x="135.5" y="329.4" width="2.5" height="0.6" fill="#9a9a9a"/><rect x="146.3" y="329.8" width="2.4" height="0.6" fill="#9a9a9a"/><rect x="140.3" y="329.6" width="2.0" height="0.6" fill="#9a9a9a"/><rect x="135.2" y="330.0" width="2.3" height="0.6" fill="#9a9a9a"/><rect x="123.2" y="329.9" width="2.2" height="0.6" fill="#9a9a9a"/><rect x="145.8" y="329.9" width="1.8" height="0.6" fill="#9a9a9a"/><rect x="149.9" y="329.9" width="2.2" height="0.6" fill="#9a9a9a"/><rect x="145.4" y="329.9" width="1.8" height="0.6" fill="#9a9a9a"/><rect x="143.9" y="329.4" width="1.7" height="0.6" fill="#9a9a9a"/><rect x="134.0" y="329.4" width="1.7" height="0.6" fill="#9a9a9a"/><rect x="140.9" y="329.8" width="1.5" height="0.6" fill="#9a9a9a"/><rect x="152.5" y="329.8" width="1.7" height="0.6" fill="#9a9a9a"/><rect x="141.5" y="329.7" width="1.9" height="0.6" fill="#9a9a9a"/><rect x="130.2" y="330.0" width="2.1" height="0.6" fill="#9a9a9a"/><rect x="142.7" y="329.9" width="2.6" height="0.6" fill="#9a9a9a"/><rect x="101.9" y="329.8" width="2.2" height="0.6" fill="#9a9a9a"/><rect x="123.6" y="329.6" width="1.3" height="0.6" fill="#9a9a9a"/><rect x="119.7" y="329.6" width="1.3" height="0.6" fill="#9a9a9a"/><rect x="122.9" y="329.9" width="2.0" height="0.6" fill="#9a9a9a"/><rect x="135.5" y="330.0" width="2.0" height="0.6" fill="#9a9a9a"/><rect x="156.9" y="329.8" width="2.3" height="0.6" fill="#9a9a9a"/><rect x="109.3" y="329.8" width="2.3" height="0.6" fill="#9a9a9a"/><rect x="106.0" y="330.0" width="1.4" height="0.6" fill="#9a9a9a"/><rect x="134.1" y="329.5" width="1.9" height="0.6" fill="#9a9a9a"/><rect x="139.4" y="329.4" width="2.5" height="0.6" fill="#9a9a9a"/><rect x="131.7" y="329.7" width="2.0" height="0.6" fill="#9a9a9a"/><rect x="129.0" y="329.6" width="2.1" height="0.6" fill="#9a9a9a"/><rect x="137.6" y="329.6" width="2.2" height="0.6" fill="#9a9a9a"/><rect x="125.7" y="329.4" width="1.5" height="0.6" fill="#9a9a9a"/><rect x="105.2" y="329.5" width="2.3" height="0.6" fill="#9a9a9a"/><rect x="130.2" y="329.9" width="2.2" height="0.6" fill="#9a9a9a"/><rect x="106.1" y="330.0" width="2.5" height="0.6" fill="#9a9a9a"/><rect x="109.3" y="329.9" width="1.8" height="0.6" fill="#9a9a9a"/><rect x="134.5" y="331.4" width="1.5" height="0.6" fill="#9a9a9a"/><rect x="136.1" y="331.4" width="2.2" height="0.6" fill="#9a9a9a"/><rect x="133.7" y="331.4" width="2.3" height="0.6" fill="#9a9a9a"/><rect x="139.3" y="330.9" width="2.1" height="0.6" fill="#9a9a9a"/><rect x="133.7" y="330.9" width="1.3" height="0.6" fill="#9a9a9a"/><rect x="136.5" y="330.9" width="1.8" height="0.6" fill="#9a9a9a"/><rect x="142.0" y="331.1" width="1.6" height="0.6" fill="#9a9a9a"/><rect x="138.4" y="331.1" width="2.3" height="0.6" fill="#9a9a9a"/><rect x="136.2" y="331.4" width="2.5" height="0.6" fill="#9a9a9a"/><rect x="144.5" y="330.9" width="1.4" height="0.6" fill="#9a9a9a"/><rect x="149.7" y="331.3" width="2.1" height="0.6" fill="#9a9a9a"/><rect x="128.7" y="331.0" width="2.2" height="0.6" fill="#9a9a9a"/><rect x="137.8" y="331.2" width="2.1" height="0.6" fill="#9a9a9a"/><rect x="145.0" y="330.9" width="1.5" height="0.6" fill="#9a9a9a"/><rect x="154.8" y="331.3" width="2.4" height="0.6" fill="#9a9a9a"/><rect x="105.1" y="330.8" width="1.6" height="0.6" fill="#9a9a9a"/><rect x="132.3" y="331.2" width="1.3" height="0.6" fill="#9a9a9a"/><rect x="137.3" y="330.8" width="1.3" height="0.6" fill="#9a9a9a"/><rect x="142.1" y="331.1" width="2.1" height="0.6" fill="#9a9a9a"/><rect x="129.7" y="331.1" width="1.5" height="0.6" fill="#9a9a9a"/><rect x="127.8" y="331.2" width="2.4" height="0.6" fill="#9a9a9a"/><rect x="109.1" y="330.9" width="2.3" height="0.6" fill="#9a9a9a"/><rect x="140.4" y="331.3" width="1.5" height="0.6" fill="#9a9a9a"/><rect x="131.7" y="331.0" width="2.3" height="0.6" fill="#9a9a9a"/><rect x="129.0" y="331.2" width="2.6" height="0.6" fill="#9a9a9a"/><rect x="126.9" y="332.3" width="2.2" height="0.6" fill="#9a9a9a"/><rect x="151.2" y="332.3" width="1.7" height="0.6" fill="#9a9a9a"/><rect x="111.9" y="332.5" width="1.3" height="0.6" fill="#9a9a9a"/><rect x="110.3" y="332.3" width="1.9" height="0.6" fill="#9a9a9a"/><rect x="142.3" y="332.2" width="2.3" height="0.6" fill="#9a9a9a"/><rect x="109.4" y="332.1" width="2.1" height="0.6" fill="#9a9a9a"/><rect x="110.0" y="332.2" width="2.2" height="0.6" fill="#9a9a9a"/><rect x="143.0" y="332.2" width="1.4" height="0.6" fill="#9a9a9a"/><rect x="128.9" y="332.4" width="1.7" height="0.6" fill="#9a9a9a"/><rect x="113.5" y="332.4" width="2.0" height="0.6" fill="#9a9a9a"/><rect x="150.7" y="332.6" width="2.5" height="0.6" fill="#9a9a9a"/><rect x="132.7" y="332.5" width="1.6" height="0.6" fill="#9a9a9a"/><rect x="125.3" y="340.3" width="1.9" height="0.6" fill="#8f8f8f"/><rect x="153.3" y="340.0" width="1.4" height="0.6" fill="#8f8f8f"/><rect x="127.8" y="340.2" width="1.4" height="0.6" fill="#8f8f8f"/><rect x="128.8" y="340.0" width="1.6" height="0.6" fill="#8f8f8f"/><rect x="148.3" y="340.5" width="1.8" height="0.6" fill="#8f8f8f"/><rect x="137.1" y="339.9" width="1.8" height="0.6" fill="#8f8f8f"/><rect x="152.8" y="340.1" width="1.0" height="0.6" fill="#8f8f8f"/><rect x="135.0" y="340.5" width="1.6" height="0.6" fill="#8f8f8f"/><rect x="156.5" y="340.6" width="1.8" height="0.6" fill="#8f8f8f"/><rect x="113.2" y="340.5" width="1.8" height="0.6" fill="#8f8f8f"/><rect x="114.2" y="339.8" width="1.7" height="0.6" fill="#8f8f8f"/><rect x="153.3" y="339.8" width="1.6" height="0.6" fill="#8f8f8f"/><rect x="117.1" y="340.7" width="1.6" height="0.6" fill="#8f8f8f"/><rect x="121.9" y="340.0" width="1.8" height="0.6" fill="#8f8f8f"/><rect x="135.3" y="340.8" width="1.4" height="0.6" fill="#8f8f8f"/><rect x="126.4" y="341.1" width="1.7" height="0.6" fill="#8f8f8f"/><rect x="133.8" y="340.5" width="1.7" height="0.6" fill="#8f8f8f"/><rect x="144.3" y="341.0" width="1.4" height="0.6" fill="#8f8f8f"/><rect x="149.7" y="340.6" width="1.9" height="0.6" fill="#8f8f8f"/><rect x="148.7" y="340.9" width="1.9" height="0.6" fill="#8f8f8f"/><rect x="156.2" y="340.6" width="1.5" height="0.6" fill="#8f8f8f"/><rect x="144.4" y="340.8" width="1.4" height="0.6" fill="#8f8f8f"/><rect x="130.3" y="339.9" width="1.7" height="0.6" fill="#8f8f8f"/><rect x="158.0" y="340.2" width="1.2" height="0.6" fill="#8f8f8f"/><rect x="120.2" y="340.3" width="1.3" height="0.6" fill="#8f8f8f"/><rect x="156.9" y="339.8" width="1.3" height="0.6" fill="#8f8f8f"/><rect x="115.6" y="340.6" width="1.8" height="0.6" fill="#8f8f8f"/><rect x="118.9" y="339.8" width="1.5" height="0.6" fill="#8f8f8f"/><rect x="138.5" y="341.0" width="1.0" height="0.6" fill="#8f8f8f"/><rect x="115.6" y="340.0" width="1.2" height="0.6" fill="#8f8f8f"/><rect x="121.5" y="340.7" width="1.6" height="0.6" fill="#8f8f8f"/><rect x="121.1" y="340.0" width="1.3" height="0.6" fill="#8f8f8f"/><rect x="118.6" y="340.8" width="1.3" height="0.6" fill="#8f8f8f"/><rect x="136.6" y="340.8" width="1.5" height="0.6" fill="#8f8f8f"/><rect x="122.5" y="340.9" width="1.9" height="0.6" fill="#8f8f8f"/><rect x="126.4" y="340.5" width="2.0" height="0.6" fill="#8f8f8f"/><rect x="133.6" y="340.0" width="1.0" height="0.6" fill="#8f8f8f"/><rect x="155.8" y="340.8" width="1.4" height="0.6" fill="#8f8f8f"/><rect x="135.7" y="340.4" width="1.3" height="0.6" fill="#8f8f8f"/><rect x="157.9" y="340.6" width="1.2" height="0.6" fill="#8f8f8f"/><rect x="110.8" y="340.4" width="1.4" height="0.6" fill="#8f8f8f"/><rect x="148.4" y="340.7" width="1.6" height="0.6" fill="#8f8f8f"/><rect x="117.9" y="339.9" width="1.3" height="0.6" fill="#8f8f8f"/><rect x="122.7" y="340.9" width="1.5" height="0.6" fill="#8f8f8f"/><rect x="140.9" y="341.1" width="1.3" height="0.6" fill="#8f8f8f"/><rect x="135.8" y="339.9" width="1.8" height="0.6" fill="#8f8f8f"/><rect x="110.1" y="340.8" width="1.8" height="0.6" fill="#8f8f8f"/><rect x="149.8" y="339.8" width="1.3" height="0.6" fill="#8f8f8f"/><rect x="144.7" y="339.8" width="1.5" height="0.6" fill="#8f8f8f"/><rect x="132.7" y="341.0" width="1.6" height="0.6" fill="#8f8f8f"/><rect x="151.3" y="340.1" width="1.8" height="0.6" fill="#8f8f8f"/><rect x="130.5" y="341.0" width="1.1" height="0.6" fill="#8f8f8f"/><rect x="149.9" y="340.0" width="1.5" height="0.6" fill="#8f8f8f"/><rect x="135.3" y="339.9" width="1.8" height="0.6" fill="#8f8f8f"/><rect x="125.4" y="340.1" width="1.1" height="0.6" fill="#8f8f8f"/><rect x="124.8" y="340.4" width="1.7" height="0.6" fill="#8f8f8f"/><rect x="127.7" y="340.7" width="1.1" height="0.6" fill="#8f8f8f"/><rect x="128.9" y="340.3" width="2.0" height="0.6" fill="#8f8f8f"/><rect x="150.3" y="340.6" width="1.0" height="0.6" fill="#8f8f8f"/><rect x="128.5" y="340.7" width="1.2" height="0.6" fill="#8f8f8f"/><rect x="137.6" y="340.3" width="1.0" height="0.6" fill="#8f8f8f"/><rect x="158.0" y="340.8" width="1.2" height="0.6" fill="#8f8f8f"/><rect x="139.9" y="340.1" width="1.4" height="0.6" fill="#8f8f8f"/><rect x="136.2" y="340.1" width="1.3" height="0.6" fill="#8f8f8f"/><rect x="129.2" y="340.6" width="1.3" height="0.6" fill="#8f8f8f"/><rect x="119.9" y="340.7" width="1.3" height="0.6" fill="#8f8f8f"/><rect x="155.5" y="340.5" width="1.7" height="0.6" fill="#8f8f8f"/><rect x="126.4" y="340.9" width="1.1" height="0.6" fill="#8f8f8f"/><rect x="116.9" y="339.8" width="1.7" height="0.6" fill="#8f8f8f"/><rect x="144.3" y="340.0" width="1.4" height="0.6" fill="#8f8f8f"/><rect x="150.6" y="340.5" width="1.1" height="0.6" fill="#8f8f8f"/><rect x="121.3" y="339.9" width="1.1" height="0.6" fill="#8f8f8f"/><rect x="129.6" y="339.8" width="1.9" height="0.6" fill="#8f8f8f"/><rect x="130.7" y="340.4" width="1.6" height="0.6" fill="#8f8f8f"/><rect x="147.1" y="340.8" width="1.4" height="0.6" fill="#8f8f8f"/><rect x="126.4" y="340.3" width="1.0" height="0.6" fill="#8f8f8f"/><rect x="129.2" y="340.7" width="2.0" height="0.6" fill="#8f8f8f"/><rect x="148.1" y="340.6" width="1.6" height="0.6" fill="#8f8f8f"/><rect x="111.2" y="340.2" width="1.3" height="0.6" fill="#8f8f8f"/><rect x="141.5" y="339.8" width="1.4" height="0.6" fill="#8f8f8f"/><rect x="134.5" y="340.8" width="1.8" height="0.6" fill="#8f8f8f"/><rect x="139.5" y="339.9" width="1.8" height="0.6" fill="#8f8f8f"/><rect x="153.7" y="340.5" width="1.4" height="0.6" fill="#8f8f8f"/><rect x="134.2" y="339.9" width="1.7" height="0.6" fill="#8f8f8f"/><rect x="157.5" y="340.4" width="1.7" height="0.6" fill="#8f8f8f"/><rect x="150.1" y="340.0" width="1.9" height="0.6" fill="#8f8f8f"/><rect x="140.6" y="340.0" width="1.1" height="0.6" fill="#8f8f8f"/><rect x="121.9" y="340.5" width="1.7" height="0.6" fill="#8f8f8f"/><rect x="126.1" y="341.0" width="1.4" height="0.6" fill="#8f8f8f"/><rect x="132.2" y="339.9" width="2.0" height="0.6" fill="#8f8f8f"/><rect x="114.1" y="344.6" width="1.2" height="0.6" fill="#9a9a9a"/><rect x="122.3" y="344.1" width="1.2" height="0.6" fill="#9a9a9a"/><rect x="122.6" y="343.7" width="1.2" height="0.6" fill="#9a9a9a"/><rect x="129.6" y="344.7" width="1.2" height="0.6" fill="#9a9a9a"/><rect x="127.8" y="344.1" width="1.2" height="0.6" fill="#9a9a9a"/><rect x="113.9" y="344.5" width="1.2" height="0.6" fill="#9a9a9a"/><rect x="117.2" y="344.6" width="1.2" height="0.6" fill="#9a9a9a"/><rect x="116.2" y="344.1" width="1.2" height="0.6" fill="#9a9a9a"/><rect x="128.0" y="343.6" width="1.2" height="0.6" fill="#9a9a9a"/><rect x="122.4" y="343.4" width="1.2" height="0.6" fill="#9a9a9a"/><rect x="112.0" y="343.6" width="1.2" height="0.6" fill="#9a9a9a"/><rect x="131.1" y="344.6" width="1.2" height="0.6" fill="#9a9a9a"/><rect x="124.6" y="343.7" width="1.2" height="0.6" fill="#9a9a9a"/><rect x="124.8" y="344.3" width="1.2" height="0.6" fill="#9a9a9a"/><rect x="119.0" y="344.1" width="1.2" height="0.6" fill="#9a9a9a"/><rect x="127.5" y="343.3" width="1.2" height="0.6" fill="#9a9a9a"/><rect x="115.4" y="344.0" width="1.2" height="0.6" fill="#9a9a9a"/><rect x="114.3" y="343.8" width="1.2" height="0.6" fill="#9a9a9a"/><rect x="122.8" y="343.5" width="1.2" height="0.6" fill="#9a9a9a"/><rect x="121.8" y="343.7" width="1.2" height="0.6" fill="#9a9a9a"/><rect x="122.8" y="343.8" width="1.2" height="0.6" fill="#9a9a9a"/><rect x="124.2" y="343.4" width="1.2" height="0.6" fill="#9a9a9a"/><rect x="124.8" y="343.5" width="1.2" height="0.6" fill="#9a9a9a"/><rect x="130.6" y="344.1" width="1.2" height="0.6" fill="#9a9a9a"/><rect x="120.8" y="343.9" width="1.2" height="0.6" fill="#9a9a9a"/><rect x="166.6" y="345.9" width="1.6" height="0.6" fill="#8a8a8a"/><rect x="166.6" y="339.4" width="1.8" height="0.6" fill="#8a8a8a"/><rect x="181.6" y="337.5" width="1.3" height="0.6" fill="#8a8a8a"/><rect x="162.4" y="341.3" width="1.7" height="0.6" fill="#8a8a8a"/><rect x="165.7" y="338.1" width="1.7" height="0.6" fill="#8a8a8a"/><rect x="173.1" y="335.4" width="0.9" height="0.6" fill="#8a8a8a"/><rect x="172.0" y="345.3" width="1.4" height="0.6" fill="#8a8a8a"/><rect x="159.6" y="345.7" width="1.2" height="0.6" fill="#8a8a8a"/><rect x="172.1" y="330.7" width="1.3" height="0.6" fill="#8a8a8a"/><rect x="172.9" y="339.8" width="1.3" height="0.6" fill="#8a8a8a"/><rect x="184.7" y="340.3" width="1.1" height="0.6" fill="#8a8a8a"/><rect x="177.8" y="335.1" width="1.3" height="0.6" fill="#8a8a8a"/><rect x="174.3" y="349.6" width="1.8" height="0.6" fill="#8a8a8a"/><rect x="176.8" y="343.7" width="1.7" height="0.6" fill="#8a8a8a"/><rect x="163.1" y="333.0" width="1.6" height="0.6" fill="#8a8a8a"/><rect x="180.1" y="341.3" width="1.7" height="0.6" fill="#8a8a8a"/><rect x="184.4" y="330.7" width="1.4" height="0.6" fill="#8a8a8a"/><rect x="181.8" y="350.5" width="0.9" height="0.6" fill="#8a8a8a"/><rect x="174.7" y="335.5" width="1.0" height="0.6" fill="#8a8a8a"/><rect x="180.1" y="349.2" width="1.6" height="0.6" fill="#8a8a8a"/><rect x="169.3" y="341.8" width="0.9" height="0.6" fill="#8a8a8a"/><rect x="178.1" y="328.4" width="1.7" height="0.6" fill="#8a8a8a"/><rect x="171.2" y="350.1" width="1.8" height="0.6" fill="#8a8a8a"/><rect x="182.1" y="339.0" width="1.1" height="0.6" fill="#8a8a8a"/><rect x="170.0" y="349.2" width="1.1" height="0.6" fill="#8a8a8a"/><rect x="189.6" y="347.8" width="1.2" height="0.6" fill="#8a8a8a"/><rect x="169.9" y="348.8" width="1.8" height="0.6" fill="#8a8a8a"/><rect x="175.0" y="332.5" width="1.5" height="0.6" fill="#8a8a8a"/><rect x="179.7" y="328.9" width="1.0" height="0.6" fill="#8a8a8a"/><rect x="187.9" y="345.1" width="1.2" height="0.6" fill="#8a8a8a"/><rect x="185.9" y="344.8" width="1.0" height="0.6" fill="#8a8a8a"/><rect x="165.8" y="344.4" width="1.7" height="0.6" fill="#8a8a8a"/><rect x="171.7" y="333.1" width="1.2" height="0.6" fill="#8a8a8a"/><rect x="175.4" y="344.8" width="1.1" height="0.6" fill="#8a8a8a"/><rect x="176.3" y="343.7" width="1.6" height="0.6" fill="#8a8a8a"/><rect x="178.9" y="336.6" width="1.5" height="0.6" fill="#8a8a8a"/><rect x="181.4" y="333.2" width="1.2" height="0.6" fill="#8a8a8a"/><rect x="168.0" y="349.9" width="1.5" height="0.6" fill="#8a8a8a"/><rect x="172.4" y="329.9" width="1.8" height="0.6" fill="#8a8a8a"/><rect x="184.2" y="338.3" width="1.4" height="0.6" fill="#8a8a8a"/><rect x="172.3" y="342.1" width="1.2" height="0.6" fill="#8a8a8a"/><rect x="173.8" y="333.7" width="1.6" height="0.6" fill="#8a8a8a"/><rect x="179.3" y="345.8" width="1.1" height="0.6" fill="#8a8a8a"/><rect x="177.3" y="334.4" width="1.4" height="0.6" fill="#8a8a8a"/><rect x="180.3" y="351.4" width="0.9" height="0.6" fill="#8a8a8a"/><rect x="188.0" y="338.8" width="1.6" height="0.6" fill="#8a8a8a"/><rect x="162.4" y="339.7" width="1.1" height="0.6" fill="#8a8a8a"/><rect x="184.9" y="341.0" width="1.5" height="0.6" fill="#8a8a8a"/><rect x="167.8" y="346.5" width="1.4" height="0.6" fill="#8a8a8a"/><rect x="182.1" y="339.8" width="1.7" height="0.6" fill="#8a8a8a"/><rect x="171.1" y="350.5" width="1.1" height="0.6" fill="#8a8a8a"/><rect x="166.7" y="346.4" width="1.0" height="0.6" fill="#8a8a8a"/><rect x="170.2" y="338.3" width="1.6" height="0.6" fill="#8a8a8a"/><rect x="171.0" y="346.6" width="1.6" height="0.6" fill="#8a8a8a"/><rect x="175.0" y="333.0" width="1.4" height="0.6" fill="#8a8a8a"/><rect x="182.6" y="339.7" width="0.9" height="0.6" fill="#8a8a8a"/><rect x="165.1" y="341.4" width="1.7" height="0.6" fill="#8a8a8a"/><rect x="168.1" y="332.0" width="1.0" height="0.6" fill="#8a8a8a"/><rect x="182.5" y="338.1" width="1.3" height="0.6" fill="#8a8a8a"/><rect x="175.1" y="334.0" width="1.6" height="0.6" fill="#8a8a8a"/><rect x="188.0" y="341.4" width="1.4" height="0.6" fill="#8a8a8a"/><rect x="181.2" y="346.7" width="1.1" height="0.6" fill="#8a8a8a"/><rect x="178.1" y="328.7" width="1.2" height="0.6" fill="#8a8a8a"/><rect x="179.1" y="342.6" width="1.4" height="0.6" fill="#8a8a8a"/><rect x="173.3" y="329.8" width="1.6" height="0.6" fill="#8a8a8a"/><rect x="183.7" y="331.8" width="1.1" height="0.6" fill="#8a8a8a"/><rect x="180.0" y="347.6" width="1.6" height="0.6" fill="#8a8a8a"/><rect x="183.4" y="329.2" width="1.3" height="0.6" fill="#8a8a8a"/><rect x="171.3" y="351.0" width="0.9" height="0.6" fill="#8a8a8a"/><rect x="177.9" y="339.4" width="1.6" height="0.6" fill="#8a8a8a"/><rect x="178.1" y="338.6" width="1.6" height="0.6" fill="#8a8a8a"/><rect x="174.1" y="328.6" width="1.1" height="0.6" fill="#8a8a8a"/><rect x="177.4" y="337.1" width="1.2" height="0.6" fill="#8a8a8a"/><rect x="172.1" y="337.9" width="1.0" height="0.6" fill="#8a8a8a"/><rect x="179.4" y="345.3" width="1.1" height="0.6" fill="#8a8a8a"/><rect x="174.2" y="333.5" width="1.3" height="0.6" fill="#8a8a8a"/><rect x="183.3" y="350.1" width="1.2" height="0.6" fill="#8a8a8a"/><rect x="164.3" y="342.4" width="0.9" height="0.6" fill="#8a8a8a"/><rect x="191.1" y="337.4" width="1.5" height="0.6" fill="#8a8a8a"/><rect x="180.2" y="344.4" width="1.7" height="0.6" fill="#8a8a8a"/><rect x="176.5" y="341.9" width="1.7" height="0.6" fill="#8a8a8a"/><rect x="167.6" y="347.9" width="1.2" height="0.6" fill="#8a8a8a"/><rect x="176.1" y="346.5" width="1.1" height="0.6" fill="#8a8a8a"/><rect x="171.9" y="340.9" width="1.0" height="0.6" fill="#8a8a8a"/><rect x="178.1" y="332.6" width="1.1" height="0.6" fill="#8a8a8a"/></g>
<path d="M118.7,341.6 L159,341.6 L160,346.4 L179.3,347.2 L179.3,353.2 L159,352.5 L118.7,343.2 Z" fill="#c6c6c6"/>
<rect x="109.7" y="308.9" width="1" height="1" fill="#777"/>
<rect x="114.1" y="309.9" width="1" height="1" fill="#777"/>
<rect x="126.0" y="309.9" width="1" height="1" fill="#777"/>
<rect x="134.7" y="309.9" width="1" height="1" fill="#777"/>
<rect x="144.3" y="312.8" width="1" height="1" fill="#777"/>
<rect x="160.3" y="298.0" width="1" height="1" fill="#777"/>
<rect x="162.2" y="296.5" width="1" height="1" fill="#777"/>
<rect x="95.5" y="325.5" width="1" height="1" fill="#777"/>
<rect x="99.5" y="323.5" width="1" height="1" fill="#777"/>
<line x1="139.6" y1="220" x2="139.6" y2="359" stroke="#000" stroke-width="1.2" stroke-dasharray="1 1"/>
<line x1="178.8" y1="220" x2="178.8" y2="359" stroke="#000" stroke-width="1.2" stroke-dasharray="1 1"/>
<line x1="33" y1="305.5" x2="242" y2="305.5" stroke="#000" stroke-width="1.2" stroke-dasharray="1 1"/>
<rect x="77.95" y="225.5" width="1.1" height="1.1" fill="#2b5f9d"/>
<rect x="82.35000000000001" y="225.5" width="1.1" height="1.1" fill="#2b5f9d"/>
<rect x="87.15" y="225.5" width="1.1" height="1.1" fill="#2b5f9d"/>
<rect x="91.95" y="225.5" width="1.1" height="1.1" fill="#2b5f9d"/>
<rect x="94.85000000000001" y="225.5" width="1.1" height="1.1" fill="#2b5f9d"/>
<rect x="102.45" y="225.5" width="1.1" height="1.1" fill="#2b5f9d"/>
<rect x="113.15" y="225.5" width="1.1" height="1.1" fill="#2b5f9d"/>
<rect x="130.25" y="276.15" width="1.1" height="1.1" fill="#2b5f9d"/>
<rect x="112.15" y="283.25" width="1.1" height="1.1" fill="#2b5f9d"/>
<rect x="130.45" y="283.25" width="1.1" height="1.1" fill="#2b5f9d"/>
<rect x="107.75" y="300.25" width="1.1" height="1.1" fill="#2b5f9d"/>
<rect x="112.15" y="303.15" width="1.1" height="1.1" fill="#2b5f9d"/>
<rect x="123.15" y="303.15" width="1.1" height="1.1" fill="#2b5f9d"/>
<rect x="132.75" y="303.15" width="1.1" height="1.1" fill="#2b5f9d"/>
<rect x="135.64999999999998" y="303.15" width="1.1" height="1.1" fill="#2b5f9d"/>
<rect x="213.14999999999998" y="255.75" width="1.1" height="1.1" fill="#cc2140"/>
<rect x="230.85" y="255.75" width="1.1" height="1.1" fill="#cc2140"/>
<rect x="179.85" y="293.45" width="1.1" height="1.1" fill="#cc2140"/>
<rect x="189.25" y="297.05" width="1.1" height="1.1" fill="#cc2140"/>
<rect x="195.04999999999998" y="297.45" width="1.1" height="1.1" fill="#cc2140"/>
<text x="32.57" y="220.10" font-size="8.79" textLength="22.16" lengthAdjust="spacingAndGlyphs" stroke="#231f20" stroke-width="0.15">Dpm2</text>
<text x="62.16" y="221.50" font-size="8.94" textLength="25.57" lengthAdjust="spacingAndGlyphs" stroke="#231f20" stroke-width="0.15">Mpdu1</text>
<text x="38.89" y="239.20" font-size="8.58" textLength="29.73" lengthAdjust="spacingAndGlyphs" stroke="#231f20" stroke-width="0.15">Dpy19l1</text>
<text x="78.87" y="239.20" font-size="8.82" textLength="15.66" lengthAdjust="spacingAndGlyphs" stroke="#231f20" stroke-width="0.15">Calr</text>
<line x1="38.1" y1="223.5" x2="40.8" y2="226.8" stroke="#231f20" stroke-width="0.5"/>
<line x1="52.9" y1="225.2" x2="55.6" y2="231.6" stroke="#231f20" stroke-width="0.5"/>
<line x1="78.5" y1="225.5" x2="80.5" y2="228.2" stroke="#231f20" stroke-width="0.5"/>
<polyline points="61,226.8 63.2,224.8 65.7,224.8" fill="none" stroke="#231f20" stroke-width="0.5"/>
<text x="224.69" y="254.20" font-size="8.54" textLength="16.13" lengthAdjust="spacingAndGlyphs" stroke="#231f20" stroke-width="0.15">Il3ra</text>
<text x="201.63" y="264.80" font-size="9.52" textLength="16.54" lengthAdjust="spacingAndGlyphs" stroke="#231f20" stroke-width="0.15">Jak1</text>
<text x="37.44" y="292.10" font-size="9.38" fill="#2b5f9d" textLength="63.13" lengthAdjust="spacingAndGlyphs" stroke="#2b5f9d" stroke-width="0.15">More depleted in</text>
<text x="45.24" y="301.50" font-size="9.37" fill="#2b5f9d" textLength="20.53" lengthAdjust="spacingAndGlyphs" stroke="#2b5f9d" stroke-width="0.15">CALR</text>
<text x="66.10" y="298.60" font-size="5.8" fill="#2b5f9d" textLength="9.80" lengthAdjust="spacingAndGlyphs" stroke="#2b5f9d" stroke-width="0.15">Δ52</text>
<text x="77.14" y="301.50" font-size="9.37" fill="#2b5f9d" textLength="15.32" lengthAdjust="spacingAndGlyphs" stroke="#2b5f9d" stroke-width="0.15">–IL3</text>
<text x="188.63" y="292.60" font-size="9.52" fill="#cc2140" textLength="54.94" lengthAdjust="spacingAndGlyphs" stroke="#cc2140" stroke-width="0.15">More depleted</text>
<text x="197.15" y="301.70" font-size="9.08" fill="#cc2140" textLength="36.89" lengthAdjust="spacingAndGlyphs" stroke="#cc2140" stroke-width="0.15">in EV +IL3</text>
<rect x="266.5" y="222.2" width="246.5" height="26.4" fill="#10508a"/>
<rect x="266.5" y="248.60" width="47.10" height="15.87" fill="#dbe4ed"/>
<rect x="314.6" y="248.60" width="47.00" height="15.87" fill="#dbe4ed"/>
<rect x="362.6" y="248.60" width="61.30" height="15.87" fill="#dbe4ed"/>
<rect x="424.9" y="248.60" width="36.00" height="15.87" fill="#dbe4ed"/>
<rect x="461.9" y="248.60" width="51.10" height="15.87" fill="#dbe4ed"/>
<rect x="266.5" y="264.47" width="47.10" height="15.87" fill="#b8cada"/>
<rect x="314.6" y="264.47" width="47.00" height="15.87" fill="#b8cada"/>
<rect x="362.6" y="264.47" width="61.30" height="15.87" fill="#b8cada"/>
<rect x="424.9" y="264.47" width="36.00" height="15.87" fill="#b8cada"/>
<rect x="461.9" y="264.47" width="51.10" height="15.87" fill="#b8cada"/>
<rect x="266.5" y="280.34" width="47.10" height="15.87" fill="#dbe4ed"/>
<rect x="314.6" y="280.34" width="47.00" height="15.87" fill="#dbe4ed"/>
<rect x="362.6" y="280.34" width="61.30" height="15.87" fill="#dbe4ed"/>
<rect x="424.9" y="280.34" width="36.00" height="15.87" fill="#dbe4ed"/>
<rect x="461.9" y="280.34" width="51.10" height="15.87" fill="#dbe4ed"/>
<rect x="266.5" y="296.21" width="47.10" height="15.87" fill="#b8cada"/>
<rect x="314.6" y="296.21" width="47.00" height="15.87" fill="#b8cada"/>
<rect x="362.6" y="296.21" width="61.30" height="15.87" fill="#b8cada"/>
<rect x="424.9" y="296.21" width="36.00" height="15.87" fill="#b8cada"/>
<rect x="461.9" y="296.21" width="51.10" height="15.87" fill="#b8cada"/>
<rect x="266.5" y="312.08" width="47.10" height="15.87" fill="#dbe4ed"/>
<rect x="314.6" y="312.08" width="47.00" height="15.87" fill="#dbe4ed"/>
<rect x="362.6" y="312.08" width="61.30" height="15.87" fill="#dbe4ed"/>
<rect x="424.9" y="312.08" width="36.00" height="15.87" fill="#dbe4ed"/>
<rect x="461.9" y="312.08" width="51.10" height="15.87" fill="#dbe4ed"/>
<rect x="266.5" y="327.95" width="47.10" height="15.87" fill="#b8cada"/>
<rect x="314.6" y="327.95" width="47.00" height="15.87" fill="#b8cada"/>
<rect x="362.6" y="327.95" width="61.30" height="15.87" fill="#b8cada"/>
<rect x="424.9" y="327.95" width="36.00" height="15.87" fill="#b8cada"/>
<rect x="461.9" y="327.95" width="51.10" height="15.87" fill="#b8cada"/>
<rect x="266.5" y="343.82" width="47.10" height="15.87" fill="#dbe4ed"/>
<rect x="314.6" y="343.82" width="47.00" height="15.87" fill="#dbe4ed"/>
<rect x="362.6" y="343.82" width="61.30" height="15.87" fill="#dbe4ed"/>
<rect x="424.9" y="343.82" width="36.00" height="15.87" fill="#dbe4ed"/>
<rect x="461.9" y="343.82" width="51.10" height="15.87" fill="#dbe4ed"/>
<rect x="266.5" y="248.7" width="246.5" height="0.9" fill="#ffffff" opacity="0.6"/>
<text x="272.15" y="237.70" font-size="9.16" fill="#fff" font-weight="bold" textLength="36.20" lengthAdjust="spacingAndGlyphs">Ranking</text>
<text x="319.25" y="237.70" font-size="9.16" fill="#fff" font-weight="bold" textLength="37.10" lengthAdjust="spacingAndGlyphs">Gene ID</text>
<text x="376.65" y="237.70" font-size="9.16" fill="#fff" font-weight="bold" textLength="32.20" lengthAdjust="spacingAndGlyphs">p value</text>
<text x="433.25" y="237.70" font-size="9.16" fill="#fff" font-weight="bold" textLength="19.40" lengthAdjust="spacingAndGlyphs">FDR</text>
<text x="466.15" y="237.70" font-size="9.16" fill="#fff" font-weight="bold" textLength="42.30" lengthAdjust="spacingAndGlyphs">Neg. LFC</text>
<text x="290.00" y="259.80" font-size="9.3" text-anchor="middle" textLength="4.78" lengthAdjust="spacingAndGlyphs" stroke="#231f20" stroke-width="0.15">1</text>
<text x="338.30" y="259.80" font-size="9.3" text-anchor="middle" font-style="italic" textLength="23.47" lengthAdjust="spacingAndGlyphs" stroke="#231f20" stroke-width="0.15">Dpm2</text>
<text x="392.80" y="259.80" font-size="9.3" text-anchor="middle" textLength="38.60" lengthAdjust="spacingAndGlyphs" stroke="#231f20" stroke-width="0.15">2.516E-07</text>
<text x="442.70" y="259.80" font-size="9.3" text-anchor="middle" textLength="26.40" lengthAdjust="spacingAndGlyphs" stroke="#231f20" stroke-width="0.15">0.0004</text>
<text x="487.20" y="259.80" font-size="9.3" text-anchor="middle" textLength="21.60" lengthAdjust="spacingAndGlyphs" stroke="#231f20" stroke-width="0.15">–6.33</text>
<text x="290.00" y="275.76" font-size="9.3" text-anchor="middle" textLength="4.78" lengthAdjust="spacingAndGlyphs" stroke="#231f20" stroke-width="0.15">2</text>
<text x="338.30" y="275.76" font-size="9.3" text-anchor="middle" font-style="italic" textLength="32.29" lengthAdjust="spacingAndGlyphs" stroke="#231f20" stroke-width="0.15">Dpy19l1</text>
<text x="392.80" y="275.76" font-size="9.3" text-anchor="middle" textLength="38.60" lengthAdjust="spacingAndGlyphs" stroke="#231f20" stroke-width="0.15">2.516E-07</text>
<text x="442.70" y="275.76" font-size="9.3" text-anchor="middle" textLength="26.40" lengthAdjust="spacingAndGlyphs" stroke="#231f20" stroke-width="0.15">0.0004</text>
<text x="487.20" y="275.76" font-size="9.3" text-anchor="middle" textLength="21.60" lengthAdjust="spacingAndGlyphs" stroke="#231f20" stroke-width="0.15">–5.65</text>
<text x="290.00" y="291.72" font-size="9.3" text-anchor="middle" textLength="4.78" lengthAdjust="spacingAndGlyphs" stroke="#231f20" stroke-width="0.15">3</text>
<text x="338.30" y="291.72" font-size="9.3" text-anchor="middle" font-style="italic" textLength="26.91" lengthAdjust="spacingAndGlyphs" stroke="#231f20" stroke-width="0.15">Mpdu1</text>
<text x="392.80" y="291.72" font-size="9.3" text-anchor="middle" textLength="38.60" lengthAdjust="spacingAndGlyphs" stroke="#231f20" stroke-width="0.15">2.516E-07</text>
<text x="442.70" y="291.72" font-size="9.3" text-anchor="middle" textLength="26.40" lengthAdjust="spacingAndGlyphs" stroke="#231f20" stroke-width="0.15">0.0004</text>
<text x="487.20" y="291.72" font-size="9.3" text-anchor="middle" textLength="21.60" lengthAdjust="spacingAndGlyphs" stroke="#231f20" stroke-width="0.15">–5.19</text>
<text x="290.00" y="307.68" font-size="9.3" text-anchor="middle" textLength="4.78" lengthAdjust="spacingAndGlyphs" stroke="#231f20" stroke-width="0.15">5</text>
<text x="338.30" y="307.68" font-size="9.3" text-anchor="middle" font-style="italic" textLength="25.42" lengthAdjust="spacingAndGlyphs" stroke="#231f20" stroke-width="0.15">Pmm2</text>
<text x="392.80" y="307.68" font-size="9.3" text-anchor="middle" textLength="38.60" lengthAdjust="spacingAndGlyphs" stroke="#231f20" stroke-width="0.15">2.516E-07</text>
<text x="442.70" y="307.68" font-size="9.3" text-anchor="middle" textLength="26.40" lengthAdjust="spacingAndGlyphs" stroke="#231f20" stroke-width="0.15">0.0004</text>
<text x="487.20" y="307.68" font-size="9.3" text-anchor="middle" textLength="21.60" lengthAdjust="spacingAndGlyphs" stroke="#231f20" stroke-width="0.15">–5.02</text>
<text x="290.00" y="323.64" font-size="9.3" text-anchor="middle" textLength="4.78" lengthAdjust="spacingAndGlyphs" stroke="#231f20" stroke-width="0.15">7</text>
<text x="338.30" y="323.64" font-size="9.3" text-anchor="middle" font-style="italic" textLength="21.52" lengthAdjust="spacingAndGlyphs" stroke="#231f20" stroke-width="0.15">Mogs</text>
<text x="392.80" y="323.64" font-size="9.3" text-anchor="middle" textLength="38.60" lengthAdjust="spacingAndGlyphs" stroke="#231f20" stroke-width="0.15">2.516E-07</text>
<text x="442.70" y="323.64" font-size="9.3" text-anchor="middle" textLength="26.40" lengthAdjust="spacingAndGlyphs" stroke="#231f20" stroke-width="0.15">0.0004</text>
<text x="487.20" y="323.64" font-size="9.3" text-anchor="middle" textLength="21.60" lengthAdjust="spacingAndGlyphs" stroke="#231f20" stroke-width="0.15">–4.04</text>
<text x="290.00" y="339.60" font-size="9.3" text-anchor="middle" textLength="4.78" lengthAdjust="spacingAndGlyphs" stroke="#231f20" stroke-width="0.15">8</text>
<text x="338.30" y="339.60" font-size="9.3" text-anchor="middle" font-style="italic" textLength="23.47" lengthAdjust="spacingAndGlyphs" stroke="#231f20" stroke-width="0.15">Dpm1</text>
<text x="392.80" y="339.60" font-size="9.3" text-anchor="middle" textLength="38.60" lengthAdjust="spacingAndGlyphs" stroke="#231f20" stroke-width="0.15">2.516E-07</text>
<text x="442.70" y="339.60" font-size="9.3" text-anchor="middle" textLength="26.40" lengthAdjust="spacingAndGlyphs" stroke="#231f20" stroke-width="0.15">0.0004</text>
<text x="487.20" y="339.60" font-size="9.3" text-anchor="middle" textLength="21.60" lengthAdjust="spacingAndGlyphs" stroke="#231f20" stroke-width="0.15">–3.78</text>
<text x="290.00" y="355.56" font-size="9.3" text-anchor="middle" textLength="4.78" lengthAdjust="spacingAndGlyphs" stroke="#231f20" stroke-width="0.15">9</text>
<text x="338.30" y="355.56" font-size="9.3" text-anchor="middle" font-style="italic" textLength="23.47" lengthAdjust="spacingAndGlyphs" stroke="#231f20" stroke-width="0.15">Dpm3</text>
<text x="392.80" y="355.56" font-size="9.3" text-anchor="middle" textLength="38.60" lengthAdjust="spacingAndGlyphs" stroke="#231f20" stroke-width="0.15">2.516E-07</text>
<text x="442.70" y="355.56" font-size="9.3" text-anchor="middle" textLength="26.40" lengthAdjust="spacingAndGlyphs" stroke="#231f20" stroke-width="0.15">0.0004</text>
<text x="487.20" y="355.56" font-size="9.3" text-anchor="middle" textLength="21.60" lengthAdjust="spacingAndGlyphs" stroke="#231f20" stroke-width="0.15">–3.55</text>
<rect x="0" y="0" width="520" height="1.1" fill="#000"/>
<rect x="0" y="0" width="1.1" height="395" fill="#000"/>
<rect x="518.75" y="0" width="1.25" height="395" fill="#000"/>
<rect x="0" y="393.8" width="520" height="1.2" fill="#000"/>
</svg>
</body></html>
